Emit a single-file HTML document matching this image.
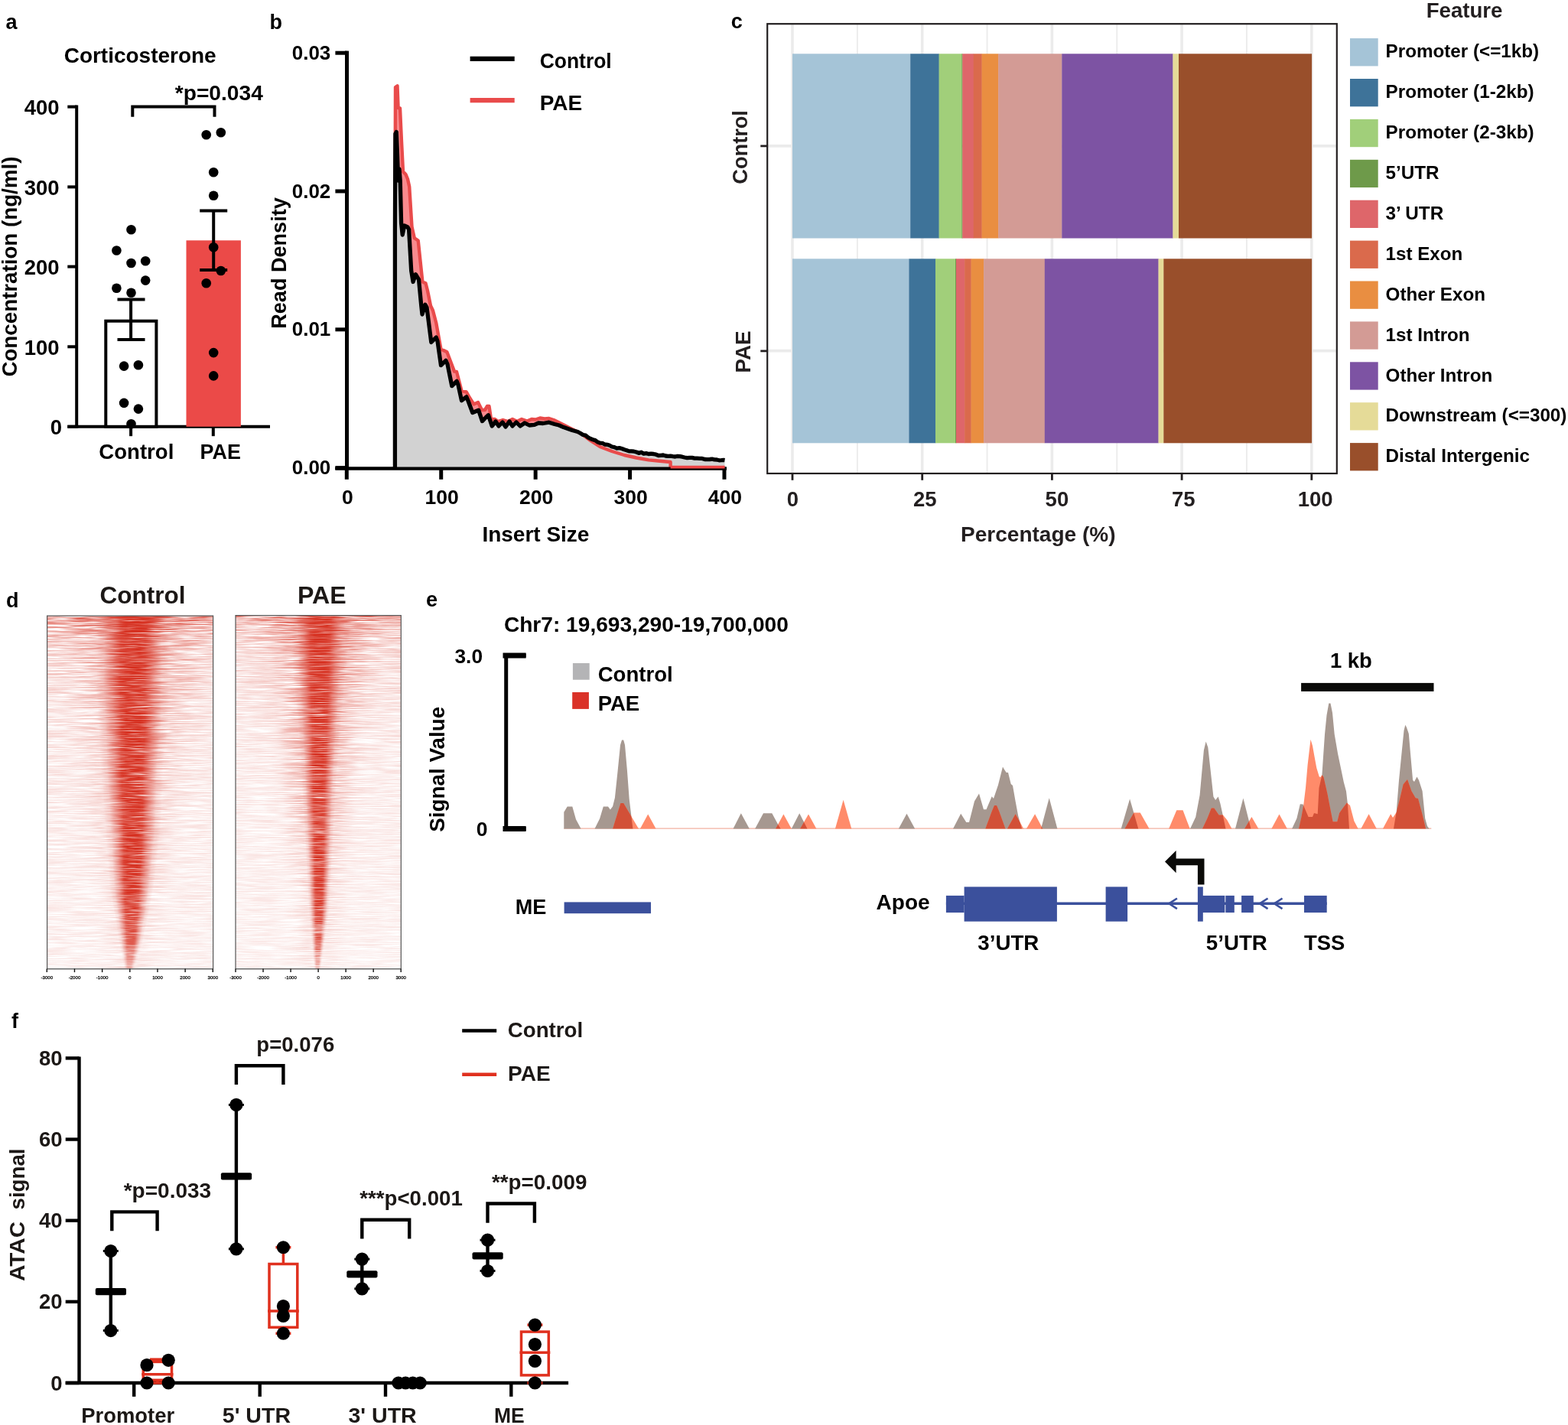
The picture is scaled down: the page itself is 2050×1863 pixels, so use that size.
<!DOCTYPE html>
<html><head><meta charset="utf-8"><title>Figure</title>
<style>
html,body{margin:0;padding:0;background:#fff;overflow:hidden;width:2050px;height:1863px;}
svg{display:block;}
svg text{font-family:'Liberation Sans', Arial, Helvetica, sans-serif;font-weight:bold;}
</style></head><body>
<svg width="2050" height="1863" viewBox="0 0 2050 1863">
<rect x="0" y="0" width="2050" height="1863" fill="#fff"/>
<text x="7.5" y="37.5" font-size="27" text-anchor="start" fill="#000">a</text>
<text x="183.2" y="81.6" font-size="28.5" text-anchor="middle" fill="#000" textLength="199" lengthAdjust="spacingAndGlyphs">Corticosterone</text>
<line x1="100.2" y1="137.6" x2="100.2" y2="559.8" stroke="#000" stroke-width="4"/>
<line x1="88.3" y1="139.6" x2="100.2" y2="139.6" stroke="#000" stroke-width="4"/>
<text x="77.6" y="150.2" font-size="27.5" text-anchor="end" fill="#000">400</text>
<line x1="88.3" y1="244.4" x2="100.2" y2="244.4" stroke="#000" stroke-width="4"/>
<text x="77.6" y="255.0" font-size="27.5" text-anchor="end" fill="#000">300</text>
<line x1="88.3" y1="348.6" x2="100.2" y2="348.6" stroke="#000" stroke-width="4"/>
<text x="77.6" y="359.20000000000005" font-size="27.5" text-anchor="end" fill="#000">200</text>
<line x1="88.3" y1="453.3" x2="100.2" y2="453.3" stroke="#000" stroke-width="4"/>
<text x="77.6" y="463.90000000000003" font-size="27.5" text-anchor="end" fill="#000">100</text>
<line x1="88.3" y1="557.8" x2="100.2" y2="557.8" stroke="#000" stroke-width="4"/>
<text x="81.0" y="568.4" font-size="27.5" text-anchor="end" fill="#000">0</text>
<line x1="88.3" y1="557.8" x2="353" y2="557.8" stroke="#000" stroke-width="4"/>
<line x1="171.1" y1="557.8" x2="171.1" y2="570.2" stroke="#000" stroke-width="4"/>
<line x1="278.8" y1="557.8" x2="278.8" y2="570.2" stroke="#000" stroke-width="4"/>
<rect x="138.3" y="419.7" width="66.1" height="138.1" fill="#fff" stroke="#000" stroke-width="4"/>
<rect x="243.50" y="314.30" width="71.40" height="243.50" fill="#EB4A48"/>
<line x1="171.1" y1="391.4" x2="171.1" y2="444.0" stroke="#000" stroke-width="4"/>
<line x1="153.5" y1="391.4" x2="189.5" y2="391.4" stroke="#000" stroke-width="4"/>
<line x1="153.5" y1="444.0" x2="189.5" y2="444.0" stroke="#000" stroke-width="4"/>
<line x1="279.2" y1="275.6" x2="279.2" y2="353.0" stroke="#000" stroke-width="4"/>
<line x1="261.2" y1="275.6" x2="297.2" y2="275.6" stroke="#000" stroke-width="4"/>
<line x1="261.2" y1="353.0" x2="297.2" y2="353.0" stroke="#000" stroke-width="4"/>
<circle cx="171.50" cy="300.30" r="6.3" fill="#000"/>
<circle cx="152.40" cy="327.50" r="6.3" fill="#000"/>
<circle cx="171.50" cy="344.00" r="6.3" fill="#000"/>
<circle cx="190.20" cy="341.30" r="6.3" fill="#000"/>
<circle cx="190.20" cy="366.60" r="6.3" fill="#000"/>
<circle cx="152.40" cy="376.80" r="6.3" fill="#000"/>
<circle cx="171.50" cy="382.80" r="6.3" fill="#000"/>
<circle cx="162.10" cy="478.60" r="6.3" fill="#000"/>
<circle cx="180.90" cy="477.30" r="6.3" fill="#000"/>
<circle cx="162.10" cy="526.90" r="6.3" fill="#000"/>
<circle cx="180.90" cy="534.60" r="6.3" fill="#000"/>
<circle cx="171.50" cy="554.30" r="6.3" fill="#000"/>
<circle cx="269.70" cy="176.20" r="6.3" fill="#000"/>
<circle cx="288.80" cy="173.30" r="6.3" fill="#000"/>
<circle cx="279.20" cy="225.20" r="6.3" fill="#000"/>
<circle cx="279.20" cy="255.80" r="6.3" fill="#000"/>
<circle cx="279.20" cy="323.30" r="6.3" fill="#000"/>
<circle cx="288.80" cy="354.00" r="6.3" fill="#000"/>
<circle cx="269.70" cy="370.20" r="6.3" fill="#000"/>
<circle cx="279.20" cy="461.10" r="6.3" fill="#000"/>
<circle cx="279.20" cy="491.40" r="6.3" fill="#000"/>
<path d="M173.3,152.7 V139.6 H280.5 V152.7" fill="none" stroke="#000" stroke-width="4"/>
<text x="228.8" y="131.1" font-size="27.5" text-anchor="start" fill="#000" textLength="115" lengthAdjust="spacingAndGlyphs">*p=0.034</text>
<text x="178.3" y="599.5" font-size="27.5" text-anchor="middle" fill="#000" textLength="98" lengthAdjust="spacingAndGlyphs">Control</text>
<text x="288.2" y="599.5" font-size="27.5" text-anchor="middle" fill="#000" textLength="53.3" lengthAdjust="spacingAndGlyphs">PAE</text>
<text transform="translate(22.3,348.6) rotate(-90)" x="0" y="0" font-size="28" text-anchor="middle" fill="#000" textLength="288" lengthAdjust="spacingAndGlyphs">Concentration (ng/ml)</text>
<text x="352.5" y="37.5" font-size="27" text-anchor="start" fill="#000">b</text>
<line x1="453.5" y1="66.7" x2="453.5" y2="614" stroke="#000" stroke-width="5"/>
<line x1="438.4" y1="69.20000000000005" x2="453.5" y2="69.20000000000005" stroke="#000" stroke-width="5"/>
<text x="432.3" y="77.80000000000004" font-size="26" text-anchor="end" fill="#000" textLength="50.5" lengthAdjust="spacingAndGlyphs">0.03</text>
<line x1="438.4" y1="250.0" x2="453.5" y2="250.0" stroke="#000" stroke-width="5"/>
<text x="432.3" y="258.6" font-size="26" text-anchor="end" fill="#000" textLength="50.5" lengthAdjust="spacingAndGlyphs">0.02</text>
<line x1="438.4" y1="430.8" x2="453.5" y2="430.8" stroke="#000" stroke-width="5"/>
<text x="432.3" y="439.40000000000003" font-size="26" text-anchor="end" fill="#000" textLength="50.5" lengthAdjust="spacingAndGlyphs">0.01</text>
<line x1="438.4" y1="611.6" x2="453.5" y2="611.6" stroke="#000" stroke-width="5"/>
<text x="432.3" y="620.2" font-size="26" text-anchor="end" fill="#000" textLength="50.5" lengthAdjust="spacingAndGlyphs">0.00</text>
<line x1="438.4" y1="612.5" x2="949.8" y2="612.5" stroke="#000" stroke-width="4.2"/>
<line x1="453.3" y1="611.6" x2="453.3" y2="626.8" stroke="#000" stroke-width="5"/>
<text x="454.3" y="659.2" font-size="26.5" text-anchor="middle" fill="#000">0</text>
<line x1="576.72" y1="611.6" x2="576.72" y2="626.8" stroke="#000" stroke-width="5"/>
<text x="577.72" y="659.2" font-size="26.5" text-anchor="middle" fill="#000">100</text>
<line x1="700.14" y1="611.6" x2="700.14" y2="626.8" stroke="#000" stroke-width="5"/>
<text x="701.14" y="659.2" font-size="26.5" text-anchor="middle" fill="#000">200</text>
<line x1="823.56" y1="611.6" x2="823.56" y2="626.8" stroke="#000" stroke-width="5"/>
<text x="824.56" y="659.2" font-size="26.5" text-anchor="middle" fill="#000">300</text>
<line x1="946.98" y1="611.6" x2="946.98" y2="626.8" stroke="#000" stroke-width="5"/>
<text x="947.98" y="659.2" font-size="26.5" text-anchor="middle" fill="#000">400</text>
<text x="700.4" y="707.8" font-size="28" text-anchor="middle" fill="#000" textLength="140" lengthAdjust="spacingAndGlyphs">Insert Size</text>
<text transform="translate(374.3,344.0) rotate(-90)" x="0" y="0" font-size="28" text-anchor="middle" fill="#000" textLength="171.5" lengthAdjust="spacingAndGlyphs">Read Density</text>
<line x1="614.6" y1="76.8" x2="672.7" y2="76.8" stroke="#000" stroke-width="6.3"/>
<line x1="614.6" y1="131.1" x2="672.7" y2="131.1" stroke="#E94B4B" stroke-width="6.3"/>
<text x="705.7" y="88.9" font-size="28.5" text-anchor="start" fill="#000" textLength="94" lengthAdjust="spacingAndGlyphs">Control</text>
<text x="705.7" y="143.5" font-size="28.5" text-anchor="start" fill="#000" textLength="55.5" lengthAdjust="spacingAndGlyphs">PAE</text>
<polygon points="516.4,611.6 516.4,300.0 517.0,114.0 519.5,112.3 520.6,141.0 523.0,141.5 525.0,185.0 527.0,224.4 530.3,227.7 533.0,234.0 535.2,244.0 538.5,296.5 541.8,311.2 546.7,314.5 552.4,368.5 556.5,370.2 559.0,380.0 563.0,399.7 566.0,406.0 570.2,422.0 576.5,457.0 580.0,458.0 584.4,460.2 594.0,485.6 597.0,486.0 603.5,511.0 609.8,512.5 614.0,520.0 619.4,528.4 625.0,526.0 630.0,536.0 634.0,536.0 637.0,531.0 639.5,531.0 642.0,548.0 647.0,548.0 651.0,551.0 657.5,549.0 664.0,551.0 670.0,548.0 676.0,551.0 682.0,548.0 689.2,550.6 695.0,548.0 700.0,548.5 706.0,546.5 712.0,547.5 717.8,547.0 724.0,549.0 730.0,552.0 738.0,556.0 746.3,560.2 760.0,567.0 772.0,576.0 784.4,584.0 800.0,590.0 816.2,595.0 832.0,598.5 848.0,601.4 860.0,602.5 873.3,603.7 875.0,611.6 947.5,611.6 516.4,611.6" fill="#F98A8E"/>
<polygon points="516.4,611.6 516.4,300.0 516.9,175.0 518.3,172.5 519.6,205.0 520.6,236.0 522.0,221.0 523.2,236.0 524.6,292.0 526.2,307.0 528.7,295.0 533.0,297.0 534.6,300.0 537.7,354.0 540.1,368.5 543.4,358.7 547.5,365.3 550.8,400.0 552.0,411.0 555.9,398.3 558.0,402.0 563.8,447.5 570.2,441.1 572.0,446.0 576.5,477.6 582.9,471.3 585.0,476.0 590.8,504.6 597.1,498.3 599.0,503.0 603.5,523.7 609.8,518.9 612.0,524.0 617.8,539.5 625.7,536.3 630.5,550.6 635.0,546.0 638.4,542.7 643.2,557.0 648.0,551.0 652.0,557.0 657.0,552.0 661.0,558.0 666.0,551.0 670.0,557.0 675.0,552.0 680.0,557.0 686.0,553.0 692.0,556.0 698.7,555.4 704.0,553.0 710.0,553.5 717.8,552.2 725.0,554.5 731.0,556.0 736.8,558.6 748.0,562.5 751.7,563.5 755.3,564.5 759.0,566.5 762.2,568.5 765.5,569.2 768.8,571.8 772.0,573.5 775.1,574.7 778.2,575.6 781.3,577.8 784.4,579.2 787.5,579.3 790.6,581.0 793.8,581.3 796.9,582.3 800.0,584.0 803.2,584.6 806.5,586.1 809.7,585.6 813.0,586.5 816.2,587.8 819.4,588.7 822.5,589.9 825.7,589.9 828.8,590.2 832.0,591.0 835.2,592.4 838.4,591.2 841.6,593.1 844.8,592.6 848.0,593.5 851.2,593.2 854.4,593.5 857.6,594.2 860.8,595.5 864.0,595.3 867.1,595.0 870.3,596.0 873.4,596.4 876.6,596.2 879.7,596.7 882.8,597.0 885.8,596.4 888.9,596.7 891.9,597.2 895.0,598.0 898.3,598.6 901.6,598.3 904.8,598.4 908.1,599.1 911.4,599.2 914.7,599.4 918.0,599.4 921.4,600.5 924.7,600.6 928.0,600.5 931.0,600.2 934.1,600.9 937.1,601.0 940.2,601.8 943.2,601.7 946.3,601.4 947.5,601.6 947.5,611.6" fill="#D2D2D2"/>
<polyline points="516.4,300.0 517.0,114.0 519.5,112.3 520.6,141.0 523.0,141.5 525.0,185.0 527.0,224.4 530.3,227.7 533.0,234.0 535.2,244.0 538.5,296.5 541.8,311.2 546.7,314.5 552.4,368.5 556.5,370.2 559.0,380.0 563.0,399.7 566.0,406.0 570.2,422.0 576.5,457.0 580.0,458.0 584.4,460.2 594.0,485.6 597.0,486.0 603.5,511.0 609.8,512.5 614.0,520.0 619.4,528.4 625.0,526.0 630.0,536.0 634.0,536.0 637.0,531.0 639.5,531.0 642.0,548.0 647.0,548.0 651.0,551.0 657.5,549.0 664.0,551.0 670.0,548.0 676.0,551.0 682.0,548.0 689.2,550.6 695.0,548.0 700.0,548.5 706.0,546.5 712.0,547.5 717.8,547.0 724.0,549.0 730.0,552.0 738.0,556.0 746.3,560.2 760.0,567.0 772.0,576.0 784.4,584.0 800.0,590.0 816.2,595.0 832.0,598.5 848.0,601.4 860.0,602.5 873.3,603.7 876.6,604.0 876.6,611.0 947.5,611.0" fill="none" stroke="#E94B4B" stroke-width="4.4" stroke-linejoin="round" stroke-linejoin="miter" stroke-miterlimit="2"/>
<polyline points="516.4,611.6 516.4,300.0 516.9,175.0 518.3,172.5 519.6,205.0 520.6,236.0 522.0,221.0 523.2,236.0 524.6,292.0 526.2,307.0 528.7,295.0 533.0,297.0 534.6,300.0 537.7,354.0 540.1,368.5 543.4,358.7 547.5,365.3 550.8,400.0 552.0,411.0 555.9,398.3 558.0,402.0 563.8,447.5 570.2,441.1 572.0,446.0 576.5,477.6 582.9,471.3 585.0,476.0 590.8,504.6 597.1,498.3 599.0,503.0 603.5,523.7 609.8,518.9 612.0,524.0 617.8,539.5 625.7,536.3 630.5,550.6 635.0,546.0 638.4,542.7 643.2,557.0 648.0,551.0 652.0,557.0 657.0,552.0 661.0,558.0 666.0,551.0 670.0,557.0 675.0,552.0 680.0,557.0 686.0,553.0 692.0,556.0 698.7,555.4 704.0,553.0 710.0,553.5 717.8,552.2 725.0,554.5 731.0,556.0 736.8,558.6 748.0,562.5 751.7,563.5 755.3,564.5 759.0,566.5 762.2,568.5 765.5,569.2 768.8,571.8 772.0,573.5 775.1,574.7 778.2,575.6 781.3,577.8 784.4,579.2 787.5,579.3 790.6,581.0 793.8,581.3 796.9,582.3 800.0,584.0 803.2,584.6 806.5,586.1 809.7,585.6 813.0,586.5 816.2,587.8 819.4,588.7 822.5,589.9 825.7,589.9 828.8,590.2 832.0,591.0 835.2,592.4 838.4,591.2 841.6,593.1 844.8,592.6 848.0,593.5 851.2,593.2 854.4,593.5 857.6,594.2 860.8,595.5 864.0,595.3 867.1,595.0 870.3,596.0 873.4,596.4 876.6,596.2 879.7,596.7 882.8,597.0 885.8,596.4 888.9,596.7 891.9,597.2 895.0,598.0 898.3,598.6 901.6,598.3 904.8,598.4 908.1,599.1 911.4,599.2 914.7,599.4 918.0,599.4 921.4,600.5 924.7,600.6 928.0,600.5 931.0,600.2 934.1,600.9 937.1,601.0 940.2,601.8 943.2,601.7 946.3,601.4 947.5,601.6" fill="none" stroke="#000" stroke-width="5.3" stroke-linejoin="round" stroke-linejoin="miter" stroke-miterlimit="2"/>
<line x1="453.5" y1="66.7" x2="453.5" y2="614" stroke="#000" stroke-width="5"/>
<line x1="438.4" y1="612.5" x2="949.8" y2="612.5" stroke="#000" stroke-width="4.2"/>
<line x1="876.6" y1="611.0" x2="947.5" y2="611.0" stroke="#F04545" stroke-width="3.2"/>
<text x="955.8" y="37.4" font-size="27" text-anchor="start" fill="#000">c</text>
<line x1="1036.0" y1="32" x2="1036.0" y2="618" stroke="#EBEBEB" stroke-width="3.6"/>
<line x1="1120.85" y1="32" x2="1120.85" y2="618" stroke="#EBEBEB" stroke-width="1.8"/>
<line x1="1205.7" y1="32" x2="1205.7" y2="618" stroke="#EBEBEB" stroke-width="3.6"/>
<line x1="1290.55" y1="32" x2="1290.55" y2="618" stroke="#EBEBEB" stroke-width="1.8"/>
<line x1="1375.4" y1="32" x2="1375.4" y2="618" stroke="#EBEBEB" stroke-width="3.6"/>
<line x1="1460.25" y1="32" x2="1460.25" y2="618" stroke="#EBEBEB" stroke-width="1.8"/>
<line x1="1545.1" y1="32" x2="1545.1" y2="618" stroke="#EBEBEB" stroke-width="3.6"/>
<line x1="1629.9499999999998" y1="32" x2="1629.9499999999998" y2="618" stroke="#EBEBEB" stroke-width="1.8"/>
<line x1="1714.8" y1="32" x2="1714.8" y2="618" stroke="#EBEBEB" stroke-width="3.6"/>
<line x1="1004" y1="190.9" x2="1746.8" y2="190.9" stroke="#EBEBEB" stroke-width="3.6"/>
<line x1="1004" y1="458.6" x2="1746.8" y2="458.6" stroke="#EBEBEB" stroke-width="3.6"/>
<rect x="1036.00" y="70.30" width="154.50" height="241.20" fill="#A5C4D7"/>
<rect x="1190.20" y="70.30" width="37.70" height="241.20" fill="#3E7399"/>
<rect x="1227.60" y="70.30" width="30.00" height="241.20" fill="#A1CF7A"/>
<rect x="1257.30" y="70.30" width="1.30" height="241.20" fill="#6E9A4A"/>
<rect x="1258.30" y="70.30" width="14.70" height="241.20" fill="#DE666A"/>
<rect x="1272.70" y="70.30" width="11.20" height="241.20" fill="#DA6A4C"/>
<rect x="1283.60" y="70.30" width="21.80" height="241.20" fill="#E98E41"/>
<rect x="1305.10" y="70.30" width="83.50" height="241.20" fill="#D39B95"/>
<rect x="1388.30" y="70.30" width="145.40" height="241.20" fill="#7D53A3"/>
<rect x="1533.40" y="70.30" width="7.90" height="241.20" fill="#E5DB98"/>
<rect x="1541.00" y="70.30" width="174.10" height="241.20" fill="#994F2B"/>
<rect x="1036.00" y="338.30" width="152.70" height="241.00" fill="#A5C4D7"/>
<rect x="1188.40" y="338.30" width="34.90" height="241.00" fill="#3E7399"/>
<rect x="1223.00" y="338.30" width="26.30" height="241.00" fill="#A1CF7A"/>
<rect x="1249.00" y="338.30" width="1.30" height="241.00" fill="#6E9A4A"/>
<rect x="1250.00" y="338.30" width="11.40" height="241.00" fill="#DE666A"/>
<rect x="1261.10" y="338.30" width="8.80" height="241.00" fill="#DA6A4C"/>
<rect x="1269.60" y="338.30" width="16.80" height="241.00" fill="#E98E41"/>
<rect x="1286.10" y="338.30" width="80.00" height="241.00" fill="#D39B95"/>
<rect x="1365.80" y="338.30" width="149.00" height="241.00" fill="#7D53A3"/>
<rect x="1514.50" y="338.30" width="7.10" height="241.00" fill="#E5DB98"/>
<rect x="1521.30" y="338.30" width="193.80" height="241.00" fill="#994F2B"/>
<rect x="1003.2" y="31.2" width="744.6" height="587.8" fill="none" stroke="#231F20" stroke-width="2.2"/>
<line x1="994.3" y1="190.9" x2="1003.2" y2="190.9" stroke="#231F20" stroke-width="2.8"/>
<line x1="994.3" y1="458.9" x2="1003.2" y2="458.9" stroke="#231F20" stroke-width="2.8"/>
<line x1="1036.0" y1="619" x2="1036.0" y2="627.8" stroke="#231F20" stroke-width="2.8"/>
<text x="1036.3" y="662.4" font-size="27.5" text-anchor="middle" fill="#231F20">0</text>
<line x1="1205.7" y1="619" x2="1205.7" y2="627.8" stroke="#231F20" stroke-width="2.8"/>
<text x="1209.3" y="662.4" font-size="27.5" text-anchor="middle" fill="#231F20">25</text>
<line x1="1375.4" y1="619" x2="1375.4" y2="627.8" stroke="#231F20" stroke-width="2.8"/>
<text x="1381.9" y="662.4" font-size="27.5" text-anchor="middle" fill="#231F20">50</text>
<line x1="1545.1" y1="619" x2="1545.1" y2="627.8" stroke="#231F20" stroke-width="2.8"/>
<text x="1547.3" y="662.4" font-size="27.5" text-anchor="middle" fill="#231F20">75</text>
<line x1="1714.8" y1="619" x2="1714.8" y2="627.8" stroke="#231F20" stroke-width="2.8"/>
<text x="1719.7" y="662.4" font-size="27.5" text-anchor="middle" fill="#231F20">100</text>
<text x="1357.3" y="707.5" font-size="28" text-anchor="middle" fill="#231F20" textLength="202.5" lengthAdjust="spacingAndGlyphs">Percentage (%)</text>
<text transform="translate(977.0,192.4) rotate(-90)" x="0" y="0" font-size="28" text-anchor="middle" fill="#231F20" textLength="96.6" lengthAdjust="spacingAndGlyphs">Control</text>
<text transform="translate(981.4,460.0) rotate(-90)" x="0" y="0" font-size="28" text-anchor="middle" fill="#231F20" textLength="55.1" lengthAdjust="spacingAndGlyphs">PAE</text>
<text x="1914.6" y="23.2" font-size="28.5" text-anchor="middle" fill="#231F20" textLength="99.7" lengthAdjust="spacingAndGlyphs">Feature</text>
<rect x="1765.00" y="50.10" width="36.70" height="36.30" fill="#A5C4D7"/>
<text x="1811.6" y="75.3" font-size="24.6" text-anchor="start" fill="#000" textLength="200.5" lengthAdjust="spacingAndGlyphs">Promoter (&lt;=1kb)</text>
<rect x="1765.00" y="103.00" width="36.70" height="36.30" fill="#3E7399"/>
<text x="1811.6" y="128.2" font-size="24.6" text-anchor="start" fill="#000" textLength="194.0" lengthAdjust="spacingAndGlyphs">Promoter (1-2kb)</text>
<rect x="1765.00" y="155.90" width="36.70" height="36.30" fill="#A1CF7A"/>
<text x="1811.6" y="181.1" font-size="24.6" text-anchor="start" fill="#000" textLength="194.0" lengthAdjust="spacingAndGlyphs">Promoter (2-3kb)</text>
<rect x="1765.00" y="208.80" width="36.70" height="36.30" fill="#6E9A4A"/>
<text x="1811.6" y="233.99999999999997" font-size="24.6" text-anchor="start" fill="#000" textLength="70.0" lengthAdjust="spacingAndGlyphs">5’UTR</text>
<rect x="1765.00" y="261.70" width="36.70" height="36.30" fill="#DE666A"/>
<text x="1811.6" y="286.9" font-size="24.6" text-anchor="start" fill="#000" textLength="75.6" lengthAdjust="spacingAndGlyphs">3’ UTR</text>
<rect x="1765.00" y="314.60" width="36.70" height="36.30" fill="#DA6A4C"/>
<text x="1811.6" y="339.8" font-size="24.6" text-anchor="start" fill="#000" textLength="100.6" lengthAdjust="spacingAndGlyphs">1st Exon</text>
<rect x="1765.00" y="367.50" width="36.70" height="36.30" fill="#E98E41"/>
<text x="1811.6" y="392.7" font-size="24.6" text-anchor="start" fill="#000" textLength="130.4" lengthAdjust="spacingAndGlyphs">Other Exon</text>
<rect x="1765.00" y="420.40" width="36.70" height="36.30" fill="#D39B95"/>
<text x="1811.6" y="445.6" font-size="24.6" text-anchor="start" fill="#000" textLength="110.0" lengthAdjust="spacingAndGlyphs">1st Intron</text>
<rect x="1765.00" y="473.30" width="36.70" height="36.30" fill="#7D53A3"/>
<text x="1811.6" y="498.5" font-size="24.6" text-anchor="start" fill="#000" textLength="139.7" lengthAdjust="spacingAndGlyphs">Other Intron</text>
<rect x="1765.00" y="526.20" width="36.70" height="36.30" fill="#E5DB98"/>
<text x="1811.6" y="551.4" font-size="24.6" text-anchor="start" fill="#000" textLength="236.8" lengthAdjust="spacingAndGlyphs">Downstream (&lt;=300)</text>
<rect x="1765.00" y="579.10" width="36.70" height="36.30" fill="#994F2B"/>
<text x="1811.6" y="604.3000000000001" font-size="24.6" text-anchor="start" fill="#000" textLength="188.3" lengthAdjust="spacingAndGlyphs">Distal Intergenic</text>
<text x="8" y="793.6" font-size="27" text-anchor="start" fill="#000">d</text>
<text x="186.6" y="789" font-size="31.5" text-anchor="middle" fill="#1c1816" textLength="112" lengthAdjust="spacingAndGlyphs">Control</text>
<text x="420.9" y="789" font-size="31.5" text-anchor="middle" fill="#1c1816" textLength="63.7" lengthAdjust="spacingAndGlyphs">PAE</text>
<defs><linearGradient id="prof" x1="0" y1="0" x2="1" y2="0">
<stop offset="0" stop-color="#D62F1F" stop-opacity="0"/>
<stop offset="0.1" stop-color="#D62F1F" stop-opacity="0.12"/>
<stop offset="0.22" stop-color="#D62F1F" stop-opacity="0.5"/>
<stop offset="0.33" stop-color="#D62F1F" stop-opacity="0.92"/>
<stop offset="0.4" stop-color="#D62F1F" stop-opacity="1"/>
<stop offset="0.6" stop-color="#D62F1F" stop-opacity="1"/>
<stop offset="0.67" stop-color="#D62F1F" stop-opacity="0.92"/>
<stop offset="0.78" stop-color="#D62F1F" stop-opacity="0.5"/>
<stop offset="0.9" stop-color="#D62F1F" stop-opacity="0.12"/>
<stop offset="1" stop-color="#D62F1F" stop-opacity="0"/>
</linearGradient></defs>
<defs>
<clipPath id="clip1"><rect x="61.6" y="805.1" width="217.00000000000003" height="461.4"/></clipPath>
<linearGradient id="bgg1" x1="0" y1="0" x2="0" y2="1"><stop offset="0" stop-color="#D62F1F" stop-opacity="0.75"/><stop offset="0.03" stop-color="#D62F1F" stop-opacity="0.5"/><stop offset="0.1" stop-color="#D62F1F" stop-opacity="0.3"/><stop offset="0.3" stop-color="#D62F1F" stop-opacity="0.19"/><stop offset="0.6" stop-color="#D62F1F" stop-opacity="0.14"/><stop offset="1" stop-color="#D62F1F" stop-opacity="0.11"/></linearGradient>
<filter id="hm1b" filterUnits="userSpaceOnUse" x="61.6" y="805.1" width="217.00000000000003" height="461.4" color-interpolation-filters="sRGB">
 <feTurbulence type="fractalNoise" baseFrequency="0.022 0.9" numOctaves="3" seed="3" result="t"/>
 <feColorMatrix in="t" type="matrix" values="0 0 0 0 0  0 0 0 0 0  0 0 0 0 0  2.6 0 0 0 -0.75" result="na"/>
 <feComposite in="SourceGraphic" in2="na" operator="in"/>
</filter>
<filter id="hm1c" filterUnits="userSpaceOnUse" x="61.6" y="805.1" width="217.00000000000003" height="461.4" color-interpolation-filters="sRGB">
 <feTurbulence type="fractalNoise" baseFrequency="0.03 0.9" numOctaves="2" seed="10" result="t"/>
 <feColorMatrix in="t" type="matrix" values="0 0 0 0 0  0 0 0 0 0  0 0 0 0 0  2.4 0 0 0 -0.3" result="na"/>
 <feComposite in="SourceGraphic" in2="na" operator="in"/>
</filter>
</defs>
<g clip-path="url(#clip1)">
<g filter="url(#hm1b)"><rect x="61.6" y="805.1" width="217.00000000000003" height="461.4" fill="url(#bgg1)"/>
<rect x="49.1" y="805.1" width="257.7" height="3.05" fill="url(#prof)" fill-opacity="0.54"/>
<rect x="51.2" y="808.1" width="253.4" height="3.05" fill="url(#prof)" fill-opacity="0.53"/>
<rect x="53.2" y="811.1" width="249.1" height="3.05" fill="url(#prof)" fill-opacity="0.52"/>
<rect x="55.3" y="814.1" width="244.9" height="3.05" fill="url(#prof)" fill-opacity="0.51"/>
<rect x="57.3" y="817.1" width="240.6" height="3.05" fill="url(#prof)" fill-opacity="0.50"/>
<rect x="59.4" y="820.1" width="236.3" height="3.05" fill="url(#prof)" fill-opacity="0.49"/>
<rect x="61.4" y="823.1" width="232.0" height="3.05" fill="url(#prof)" fill-opacity="0.48"/>
<rect x="63.5" y="826.1" width="227.7" height="3.05" fill="url(#prof)" fill-opacity="0.47"/>
<rect x="65.6" y="829.1" width="223.4" height="3.05" fill="url(#prof)" fill-opacity="0.45"/>
<rect x="67.6" y="832.1" width="219.1" height="3.05" fill="url(#prof)" fill-opacity="0.44"/>
<rect x="69.7" y="835.1" width="214.9" height="3.05" fill="url(#prof)" fill-opacity="0.43"/>
<rect x="71.7" y="838.1" width="210.6" height="3.05" fill="url(#prof)" fill-opacity="0.42"/>
<rect x="72.3" y="841.1" width="209.3" height="3.05" fill="url(#prof)" fill-opacity="0.42"/>
<rect x="72.7" y="844.1" width="208.5" height="3.05" fill="url(#prof)" fill-opacity="0.41"/>
<rect x="73.1" y="847.1" width="207.7" height="3.05" fill="url(#prof)" fill-opacity="0.41"/>
<rect x="73.5" y="850.1" width="206.8" height="3.05" fill="url(#prof)" fill-opacity="0.41"/>
<rect x="73.9" y="853.1" width="206.0" height="3.05" fill="url(#prof)" fill-opacity="0.41"/>
<rect x="74.2" y="856.1" width="205.2" height="3.05" fill="url(#prof)" fill-opacity="0.40"/>
<rect x="74.6" y="859.1" width="204.4" height="3.05" fill="url(#prof)" fill-opacity="0.40"/>
<rect x="75.0" y="862.1" width="203.6" height="3.05" fill="url(#prof)" fill-opacity="0.40"/>
<rect x="75.4" y="865.1" width="202.7" height="3.05" fill="url(#prof)" fill-opacity="0.40"/>
<rect x="75.8" y="868.1" width="201.9" height="3.05" fill="url(#prof)" fill-opacity="0.39"/>
<rect x="76.1" y="871.1" width="201.1" height="3.05" fill="url(#prof)" fill-opacity="0.39"/>
<rect x="76.5" y="874.1" width="200.3" height="3.05" fill="url(#prof)" fill-opacity="0.39"/>
<rect x="76.9" y="877.1" width="199.5" height="3.05" fill="url(#prof)" fill-opacity="0.38"/>
<rect x="77.3" y="880.1" width="198.7" height="3.05" fill="url(#prof)" fill-opacity="0.38"/>
<rect x="77.7" y="883.1" width="197.8" height="3.05" fill="url(#prof)" fill-opacity="0.38"/>
<rect x="78.1" y="886.1" width="197.0" height="3.05" fill="url(#prof)" fill-opacity="0.38"/>
<rect x="78.4" y="889.1" width="196.2" height="3.05" fill="url(#prof)" fill-opacity="0.37"/>
<rect x="78.8" y="892.1" width="195.4" height="3.05" fill="url(#prof)" fill-opacity="0.37"/>
<rect x="79.2" y="895.1" width="194.6" height="3.05" fill="url(#prof)" fill-opacity="0.37"/>
<rect x="79.6" y="898.1" width="193.7" height="3.05" fill="url(#prof)" fill-opacity="0.37"/>
<rect x="80.0" y="901.1" width="192.9" height="3.05" fill="url(#prof)" fill-opacity="0.36"/>
<rect x="80.3" y="904.1" width="192.1" height="3.05" fill="url(#prof)" fill-opacity="0.36"/>
<rect x="80.7" y="907.1" width="191.3" height="3.05" fill="url(#prof)" fill-opacity="0.36"/>
<rect x="81.1" y="910.1" width="190.5" height="3.05" fill="url(#prof)" fill-opacity="0.35"/>
<rect x="81.5" y="913.1" width="189.7" height="3.05" fill="url(#prof)" fill-opacity="0.35"/>
<rect x="81.9" y="916.1" width="188.8" height="3.05" fill="url(#prof)" fill-opacity="0.35"/>
<rect x="82.3" y="919.1" width="188.0" height="3.05" fill="url(#prof)" fill-opacity="0.35"/>
<rect x="82.6" y="922.1" width="187.2" height="3.05" fill="url(#prof)" fill-opacity="0.34"/>
<rect x="83.0" y="925.1" width="186.4" height="3.05" fill="url(#prof)" fill-opacity="0.34"/>
<rect x="83.4" y="928.1" width="185.6" height="3.05" fill="url(#prof)" fill-opacity="0.34"/>
<rect x="83.8" y="931.1" width="184.7" height="3.05" fill="url(#prof)" fill-opacity="0.34"/>
<rect x="84.2" y="934.1" width="183.9" height="3.05" fill="url(#prof)" fill-opacity="0.33"/>
<rect x="84.5" y="937.1" width="183.1" height="3.05" fill="url(#prof)" fill-opacity="0.33"/>
<rect x="84.9" y="940.1" width="182.3" height="3.05" fill="url(#prof)" fill-opacity="0.33"/>
<rect x="85.3" y="943.1" width="181.5" height="3.05" fill="url(#prof)" fill-opacity="0.32"/>
<rect x="85.7" y="946.1" width="180.7" height="3.05" fill="url(#prof)" fill-opacity="0.32"/>
<rect x="86.1" y="949.1" width="179.8" height="3.05" fill="url(#prof)" fill-opacity="0.32"/>
<rect x="86.5" y="952.1" width="178.9" height="3.05" fill="url(#prof)" fill-opacity="0.32"/>
<rect x="86.9" y="955.1" width="178.0" height="3.05" fill="url(#prof)" fill-opacity="0.32"/>
<rect x="87.2" y="958.1" width="177.1" height="3.05" fill="url(#prof)" fill-opacity="0.31"/>
<rect x="87.6" y="961.1" width="176.2" height="3.05" fill="url(#prof)" fill-opacity="0.31"/>
<rect x="88.0" y="964.1" width="175.3" height="3.05" fill="url(#prof)" fill-opacity="0.31"/>
<rect x="88.4" y="967.1" width="174.4" height="3.05" fill="url(#prof)" fill-opacity="0.31"/>
<rect x="88.8" y="970.1" width="173.5" height="3.05" fill="url(#prof)" fill-opacity="0.30"/>
<rect x="89.2" y="973.1" width="172.6" height="3.05" fill="url(#prof)" fill-opacity="0.30"/>
<rect x="89.6" y="976.1" width="171.7" height="3.05" fill="url(#prof)" fill-opacity="0.30"/>
<rect x="90.0" y="979.1" width="170.8" height="3.05" fill="url(#prof)" fill-opacity="0.30"/>
<rect x="90.4" y="982.1" width="169.9" height="3.05" fill="url(#prof)" fill-opacity="0.30"/>
<rect x="90.8" y="985.1" width="169.0" height="3.05" fill="url(#prof)" fill-opacity="0.29"/>
<rect x="91.1" y="988.1" width="168.1" height="3.05" fill="url(#prof)" fill-opacity="0.29"/>
<rect x="91.5" y="991.1" width="167.2" height="3.05" fill="url(#prof)" fill-opacity="0.29"/>
<rect x="91.9" y="994.1" width="166.3" height="3.05" fill="url(#prof)" fill-opacity="0.29"/>
<rect x="92.3" y="997.1" width="165.4" height="3.05" fill="url(#prof)" fill-opacity="0.29"/>
<rect x="92.7" y="1000.1" width="164.5" height="3.05" fill="url(#prof)" fill-opacity="0.28"/>
<rect x="93.1" y="1003.1" width="163.6" height="3.05" fill="url(#prof)" fill-opacity="0.28"/>
<rect x="93.5" y="1006.1" width="162.7" height="3.05" fill="url(#prof)" fill-opacity="0.28"/>
<rect x="93.9" y="1009.1" width="161.8" height="3.05" fill="url(#prof)" fill-opacity="0.28"/>
<rect x="94.3" y="1012.1" width="160.9" height="3.05" fill="url(#prof)" fill-opacity="0.28"/>
<rect x="94.7" y="1015.1" width="160.0" height="3.05" fill="url(#prof)" fill-opacity="0.27"/>
<rect x="95.0" y="1018.1" width="159.1" height="3.05" fill="url(#prof)" fill-opacity="0.27"/>
<rect x="95.4" y="1021.1" width="158.2" height="3.05" fill="url(#prof)" fill-opacity="0.27"/>
<rect x="95.8" y="1024.1" width="157.3" height="3.05" fill="url(#prof)" fill-opacity="0.27"/>
<rect x="96.2" y="1027.1" width="156.4" height="3.05" fill="url(#prof)" fill-opacity="0.26"/>
<rect x="96.6" y="1030.1" width="155.5" height="3.05" fill="url(#prof)" fill-opacity="0.26"/>
<rect x="97.0" y="1033.1" width="154.6" height="3.05" fill="url(#prof)" fill-opacity="0.26"/>
<rect x="97.4" y="1036.1" width="153.7" height="3.05" fill="url(#prof)" fill-opacity="0.26"/>
<rect x="97.8" y="1039.1" width="152.8" height="3.05" fill="url(#prof)" fill-opacity="0.26"/>
<rect x="98.2" y="1042.1" width="151.9" height="3.05" fill="url(#prof)" fill-opacity="0.25"/>
<rect x="98.6" y="1045.1" width="151.0" height="3.05" fill="url(#prof)" fill-opacity="0.25"/>
<rect x="98.9" y="1048.1" width="150.1" height="3.05" fill="url(#prof)" fill-opacity="0.25"/>
<rect x="99.4" y="1051.1" width="149.2" height="3.05" fill="url(#prof)" fill-opacity="0.25"/>
<rect x="99.8" y="1054.1" width="148.3" height="3.05" fill="url(#prof)" fill-opacity="0.24"/>
<rect x="100.2" y="1057.1" width="147.4" height="3.05" fill="url(#prof)" fill-opacity="0.24"/>
<rect x="100.6" y="1060.1" width="146.5" height="3.05" fill="url(#prof)" fill-opacity="0.24"/>
<rect x="101.0" y="1063.1" width="145.6" height="3.05" fill="url(#prof)" fill-opacity="0.24"/>
<rect x="101.5" y="1066.1" width="144.7" height="3.05" fill="url(#prof)" fill-opacity="0.23"/>
<rect x="101.9" y="1069.1" width="143.8" height="3.05" fill="url(#prof)" fill-opacity="0.23"/>
<rect x="102.3" y="1072.1" width="142.9" height="3.05" fill="url(#prof)" fill-opacity="0.23"/>
<rect x="102.7" y="1075.1" width="142.0" height="3.05" fill="url(#prof)" fill-opacity="0.23"/>
<rect x="103.1" y="1078.1" width="141.1" height="3.05" fill="url(#prof)" fill-opacity="0.22"/>
<rect x="103.6" y="1081.1" width="140.2" height="3.05" fill="url(#prof)" fill-opacity="0.22"/>
<rect x="104.0" y="1084.1" width="139.3" height="3.05" fill="url(#prof)" fill-opacity="0.22"/>
<rect x="104.4" y="1087.1" width="138.4" height="3.05" fill="url(#prof)" fill-opacity="0.22"/>
<rect x="104.8" y="1090.1" width="137.5" height="3.05" fill="url(#prof)" fill-opacity="0.21"/>
<rect x="105.2" y="1093.1" width="136.6" height="3.05" fill="url(#prof)" fill-opacity="0.21"/>
<rect x="105.7" y="1096.1" width="135.7" height="3.05" fill="url(#prof)" fill-opacity="0.21"/>
<rect x="106.1" y="1099.1" width="134.8" height="3.05" fill="url(#prof)" fill-opacity="0.20"/>
<rect x="106.5" y="1102.1" width="133.9" height="3.05" fill="url(#prof)" fill-opacity="0.20"/>
<rect x="106.9" y="1105.1" width="133.0" height="3.05" fill="url(#prof)" fill-opacity="0.20"/>
<rect x="107.3" y="1108.1" width="132.1" height="3.05" fill="url(#prof)" fill-opacity="0.20"/>
<rect x="107.8" y="1111.1" width="131.2" height="3.05" fill="url(#prof)" fill-opacity="0.19"/>
<rect x="108.2" y="1114.1" width="130.3" height="3.05" fill="url(#prof)" fill-opacity="0.19"/>
<rect x="108.6" y="1117.1" width="129.4" height="3.05" fill="url(#prof)" fill-opacity="0.19"/>
<rect x="109.0" y="1120.1" width="128.5" height="3.05" fill="url(#prof)" fill-opacity="0.19"/>
<rect x="109.4" y="1123.1" width="127.6" height="3.05" fill="url(#prof)" fill-opacity="0.18"/>
<rect x="109.9" y="1126.1" width="126.7" height="3.05" fill="url(#prof)" fill-opacity="0.18"/>
<rect x="110.3" y="1129.1" width="125.8" height="3.05" fill="url(#prof)" fill-opacity="0.18"/>
<rect x="110.7" y="1132.1" width="124.9" height="3.05" fill="url(#prof)" fill-opacity="0.17"/>
<rect x="111.1" y="1135.1" width="124.0" height="3.05" fill="url(#prof)" fill-opacity="0.17"/>
<rect x="111.5" y="1138.1" width="123.1" height="3.05" fill="url(#prof)" fill-opacity="0.17"/>
<rect x="112.0" y="1141.1" width="122.2" height="3.05" fill="url(#prof)" fill-opacity="0.17"/>
<rect x="112.4" y="1144.1" width="121.3" height="3.05" fill="url(#prof)" fill-opacity="0.16"/>
<rect x="112.8" y="1147.1" width="120.4" height="3.05" fill="url(#prof)" fill-opacity="0.16"/>
<rect x="113.2" y="1150.1" width="119.5" height="3.05" fill="url(#prof)" fill-opacity="0.16"/>
<rect x="113.7" y="1153.1" width="118.4" height="3.05" fill="url(#prof)" fill-opacity="0.16"/>
<rect x="114.1" y="1156.1" width="117.4" height="3.05" fill="url(#prof)" fill-opacity="0.15"/>
<rect x="114.5" y="1159.1" width="116.4" height="3.05" fill="url(#prof)" fill-opacity="0.15"/>
<rect x="115.0" y="1162.1" width="115.4" height="3.05" fill="url(#prof)" fill-opacity="0.15"/>
<rect x="115.4" y="1165.1" width="114.3" height="3.05" fill="url(#prof)" fill-opacity="0.15"/>
<rect x="115.8" y="1168.1" width="113.3" height="3.05" fill="url(#prof)" fill-opacity="0.14"/>
<rect x="116.3" y="1171.1" width="112.3" height="3.05" fill="url(#prof)" fill-opacity="0.14"/>
<rect x="116.7" y="1174.1" width="111.2" height="3.05" fill="url(#prof)" fill-opacity="0.14"/>
<rect x="117.2" y="1177.1" width="110.2" height="3.05" fill="url(#prof)" fill-opacity="0.14"/>
<rect x="117.6" y="1180.1" width="109.2" height="3.05" fill="url(#prof)" fill-opacity="0.13"/>
<rect x="118.0" y="1183.1" width="108.2" height="3.05" fill="url(#prof)" fill-opacity="0.13"/>
<rect x="118.5" y="1186.1" width="107.1" height="3.05" fill="url(#prof)" fill-opacity="0.13"/>
<rect x="118.9" y="1189.1" width="106.1" height="3.05" fill="url(#prof)" fill-opacity="0.13"/>
<rect x="119.3" y="1192.1" width="105.1" height="3.05" fill="url(#prof)" fill-opacity="0.12"/>
<rect x="119.8" y="1195.1" width="104.1" height="3.05" fill="url(#prof)" fill-opacity="0.12"/>
<rect x="120.2" y="1198.1" width="103.0" height="3.05" fill="url(#prof)" fill-opacity="0.12"/>
<rect x="120.6" y="1201.1" width="102.0" height="3.05" fill="url(#prof)" fill-opacity="0.12"/>
<rect x="121.1" y="1204.1" width="101.0" height="3.05" fill="url(#prof)" fill-opacity="0.11"/>
<rect x="121.5" y="1207.1" width="100.0" height="3.05" fill="url(#prof)" fill-opacity="0.11"/>
<rect x="122.0" y="1210.1" width="98.9" height="3.05" fill="url(#prof)" fill-opacity="0.11"/>
<rect x="122.4" y="1213.1" width="97.9" height="3.05" fill="url(#prof)" fill-opacity="0.10"/>
<rect x="122.8" y="1216.1" width="96.9" height="3.05" fill="url(#prof)" fill-opacity="0.10"/>
<rect x="123.3" y="1219.1" width="95.9" height="3.05" fill="url(#prof)" fill-opacity="0.10"/>
<rect x="123.7" y="1222.1" width="94.8" height="3.05" fill="url(#prof)" fill-opacity="0.10"/>
<rect x="124.1" y="1225.1" width="93.8" height="3.05" fill="url(#prof)" fill-opacity="0.09"/>
<rect x="124.6" y="1228.1" width="92.8" height="3.05" fill="url(#prof)" fill-opacity="0.09"/>
<rect x="125.0" y="1231.1" width="91.8" height="3.05" fill="url(#prof)" fill-opacity="0.09"/>
<rect x="125.4" y="1234.1" width="90.7" height="3.05" fill="url(#prof)" fill-opacity="0.09"/>
<rect x="125.9" y="1237.1" width="89.7" height="3.05" fill="url(#prof)" fill-opacity="0.08"/>
<rect x="126.3" y="1240.1" width="88.7" height="3.05" fill="url(#prof)" fill-opacity="0.08"/>
<rect x="126.7" y="1243.1" width="87.7" height="3.05" fill="url(#prof)" fill-opacity="0.08"/>
<rect x="127.2" y="1246.1" width="86.6" height="3.05" fill="url(#prof)" fill-opacity="0.08"/>
<rect x="127.6" y="1249.1" width="85.6" height="3.05" fill="url(#prof)" fill-opacity="0.07"/>
<rect x="128.1" y="1252.1" width="84.6" height="3.05" fill="url(#prof)" fill-opacity="0.07"/>
<rect x="128.5" y="1255.1" width="83.6" height="3.05" fill="url(#prof)" fill-opacity="0.07"/>
<rect x="128.9" y="1258.1" width="82.5" height="3.05" fill="url(#prof)" fill-opacity="0.07"/>
<rect x="129.4" y="1261.1" width="81.5" height="3.05" fill="url(#prof)" fill-opacity="0.06"/>
<rect x="129.8" y="1264.1" width="80.5" height="3.05" fill="url(#prof)" fill-opacity="0.06"/>
</g>
<g filter="url(#hm1c)">
<rect x="120.9" y="805.1" width="110.0" height="3.05" fill="url(#prof)" fill-opacity="1.00"/>
<rect x="121.7" y="808.1" width="107.8" height="3.05" fill="url(#prof)" fill-opacity="1.00"/>
<rect x="122.5" y="811.1" width="105.7" height="3.05" fill="url(#prof)" fill-opacity="1.00"/>
<rect x="123.4" y="814.1" width="103.6" height="3.05" fill="url(#prof)" fill-opacity="1.00"/>
<rect x="124.2" y="817.1" width="101.4" height="3.05" fill="url(#prof)" fill-opacity="1.00"/>
<rect x="125.0" y="820.1" width="99.3" height="3.05" fill="url(#prof)" fill-opacity="1.00"/>
<rect x="125.8" y="823.1" width="97.2" height="3.05" fill="url(#prof)" fill-opacity="1.00"/>
<rect x="126.7" y="826.1" width="95.0" height="3.05" fill="url(#prof)" fill-opacity="1.00"/>
<rect x="127.3" y="829.1" width="93.4" height="3.05" fill="url(#prof)" fill-opacity="1.00"/>
<rect x="127.3" y="832.1" width="93.4" height="3.05" fill="url(#prof)" fill-opacity="1.00"/>
<rect x="127.2" y="835.1" width="93.5" height="3.05" fill="url(#prof)" fill-opacity="1.00"/>
<rect x="127.1" y="838.1" width="93.6" height="3.05" fill="url(#prof)" fill-opacity="1.00"/>
<rect x="127.0" y="841.1" width="93.7" height="3.05" fill="url(#prof)" fill-opacity="1.00"/>
<rect x="127.0" y="844.1" width="93.8" height="3.05" fill="url(#prof)" fill-opacity="1.00"/>
<rect x="126.9" y="847.1" width="93.9" height="3.05" fill="url(#prof)" fill-opacity="1.00"/>
<rect x="126.8" y="850.1" width="94.0" height="3.05" fill="url(#prof)" fill-opacity="1.00"/>
<rect x="126.8" y="853.1" width="94.1" height="3.05" fill="url(#prof)" fill-opacity="1.00"/>
<rect x="126.7" y="856.1" width="94.2" height="3.05" fill="url(#prof)" fill-opacity="1.00"/>
<rect x="126.6" y="859.1" width="94.3" height="3.05" fill="url(#prof)" fill-opacity="1.00"/>
<rect x="126.6" y="862.1" width="94.4" height="3.05" fill="url(#prof)" fill-opacity="1.00"/>
<rect x="126.5" y="865.1" width="94.5" height="3.05" fill="url(#prof)" fill-opacity="1.00"/>
<rect x="126.4" y="868.1" width="94.6" height="3.05" fill="url(#prof)" fill-opacity="1.00"/>
<rect x="126.4" y="871.1" width="94.7" height="3.05" fill="url(#prof)" fill-opacity="1.00"/>
<rect x="126.3" y="874.1" width="94.8" height="3.05" fill="url(#prof)" fill-opacity="1.00"/>
<rect x="126.2" y="877.1" width="94.9" height="3.05" fill="url(#prof)" fill-opacity="1.00"/>
<rect x="126.1" y="880.1" width="95.0" height="3.05" fill="url(#prof)" fill-opacity="1.00"/>
<rect x="126.1" y="883.1" width="95.1" height="3.05" fill="url(#prof)" fill-opacity="1.00"/>
<rect x="126.0" y="886.1" width="95.2" height="3.05" fill="url(#prof)" fill-opacity="1.00"/>
<rect x="125.9" y="889.1" width="95.3" height="3.05" fill="url(#prof)" fill-opacity="1.00"/>
<rect x="125.9" y="892.1" width="95.4" height="3.05" fill="url(#prof)" fill-opacity="1.00"/>
<rect x="125.8" y="895.1" width="95.4" height="3.05" fill="url(#prof)" fill-opacity="1.00"/>
<rect x="125.7" y="898.1" width="95.5" height="3.05" fill="url(#prof)" fill-opacity="1.00"/>
<rect x="125.9" y="901.1" width="95.3" height="3.05" fill="url(#prof)" fill-opacity="1.00"/>
<rect x="126.1" y="904.1" width="95.1" height="3.05" fill="url(#prof)" fill-opacity="1.00"/>
<rect x="126.3" y="907.1" width="94.8" height="3.05" fill="url(#prof)" fill-opacity="1.00"/>
<rect x="126.5" y="910.1" width="94.5" height="3.05" fill="url(#prof)" fill-opacity="1.00"/>
<rect x="126.7" y="913.1" width="94.3" height="3.05" fill="url(#prof)" fill-opacity="1.00"/>
<rect x="126.9" y="916.1" width="94.0" height="3.05" fill="url(#prof)" fill-opacity="1.00"/>
<rect x="127.0" y="919.1" width="93.7" height="3.05" fill="url(#prof)" fill-opacity="1.00"/>
<rect x="127.2" y="922.1" width="93.5" height="3.05" fill="url(#prof)" fill-opacity="1.00"/>
<rect x="127.4" y="925.1" width="93.2" height="3.05" fill="url(#prof)" fill-opacity="1.00"/>
<rect x="127.6" y="928.1" width="92.9" height="3.05" fill="url(#prof)" fill-opacity="1.00"/>
<rect x="127.8" y="931.1" width="92.7" height="3.05" fill="url(#prof)" fill-opacity="1.00"/>
<rect x="128.0" y="934.1" width="92.4" height="3.05" fill="url(#prof)" fill-opacity="1.00"/>
<rect x="128.2" y="937.1" width="92.1" height="3.05" fill="url(#prof)" fill-opacity="1.00"/>
<rect x="128.4" y="940.1" width="91.9" height="3.05" fill="url(#prof)" fill-opacity="1.00"/>
<rect x="128.6" y="943.1" width="91.6" height="3.05" fill="url(#prof)" fill-opacity="1.00"/>
<rect x="128.8" y="946.1" width="91.3" height="3.05" fill="url(#prof)" fill-opacity="1.00"/>
<rect x="129.0" y="949.1" width="91.0" height="3.05" fill="url(#prof)" fill-opacity="1.00"/>
<rect x="129.1" y="952.1" width="90.5" height="3.05" fill="url(#prof)" fill-opacity="1.00"/>
<rect x="129.3" y="955.1" width="89.9" height="3.05" fill="url(#prof)" fill-opacity="1.00"/>
<rect x="129.4" y="958.1" width="89.4" height="3.05" fill="url(#prof)" fill-opacity="1.00"/>
<rect x="129.6" y="961.1" width="88.9" height="3.05" fill="url(#prof)" fill-opacity="1.00"/>
<rect x="129.7" y="964.1" width="88.3" height="3.05" fill="url(#prof)" fill-opacity="1.00"/>
<rect x="129.9" y="967.1" width="87.8" height="3.05" fill="url(#prof)" fill-opacity="1.00"/>
<rect x="130.0" y="970.1" width="87.3" height="3.05" fill="url(#prof)" fill-opacity="1.00"/>
<rect x="130.1" y="973.1" width="86.7" height="3.05" fill="url(#prof)" fill-opacity="1.00"/>
<rect x="130.3" y="976.1" width="86.2" height="3.05" fill="url(#prof)" fill-opacity="1.00"/>
<rect x="130.4" y="979.1" width="85.7" height="3.05" fill="url(#prof)" fill-opacity="1.00"/>
<rect x="130.6" y="982.1" width="85.1" height="3.05" fill="url(#prof)" fill-opacity="1.00"/>
<rect x="130.7" y="985.1" width="84.6" height="3.05" fill="url(#prof)" fill-opacity="1.00"/>
<rect x="130.9" y="988.1" width="84.1" height="3.05" fill="url(#prof)" fill-opacity="1.00"/>
<rect x="131.0" y="991.1" width="83.5" height="3.05" fill="url(#prof)" fill-opacity="1.00"/>
<rect x="131.2" y="994.1" width="83.0" height="3.05" fill="url(#prof)" fill-opacity="1.00"/>
<rect x="131.3" y="997.1" width="82.5" height="3.05" fill="url(#prof)" fill-opacity="1.00"/>
<rect x="131.5" y="1000.1" width="82.0" height="3.05" fill="url(#prof)" fill-opacity="1.00"/>
<rect x="131.7" y="1003.1" width="81.7" height="3.05" fill="url(#prof)" fill-opacity="1.00"/>
<rect x="132.0" y="1006.1" width="81.4" height="3.05" fill="url(#prof)" fill-opacity="1.00"/>
<rect x="132.2" y="1009.1" width="81.0" height="3.05" fill="url(#prof)" fill-opacity="1.00"/>
<rect x="132.4" y="1012.1" width="80.7" height="3.05" fill="url(#prof)" fill-opacity="1.00"/>
<rect x="132.6" y="1015.1" width="80.4" height="3.05" fill="url(#prof)" fill-opacity="1.00"/>
<rect x="132.8" y="1018.1" width="80.0" height="3.05" fill="url(#prof)" fill-opacity="1.00"/>
<rect x="133.1" y="1021.1" width="79.7" height="3.05" fill="url(#prof)" fill-opacity="1.00"/>
<rect x="133.3" y="1024.1" width="79.4" height="3.05" fill="url(#prof)" fill-opacity="1.00"/>
<rect x="133.5" y="1027.1" width="79.0" height="3.05" fill="url(#prof)" fill-opacity="1.00"/>
<rect x="133.7" y="1030.1" width="78.7" height="3.05" fill="url(#prof)" fill-opacity="1.00"/>
<rect x="134.0" y="1033.1" width="78.4" height="3.05" fill="url(#prof)" fill-opacity="1.00"/>
<rect x="134.2" y="1036.1" width="78.0" height="3.05" fill="url(#prof)" fill-opacity="1.00"/>
<rect x="134.4" y="1039.1" width="77.7" height="3.05" fill="url(#prof)" fill-opacity="1.00"/>
<rect x="134.6" y="1042.1" width="77.4" height="3.05" fill="url(#prof)" fill-opacity="1.00"/>
<rect x="134.9" y="1045.1" width="77.0" height="3.05" fill="url(#prof)" fill-opacity="1.00"/>
<rect x="135.1" y="1048.1" width="76.7" height="3.05" fill="url(#prof)" fill-opacity="1.00"/>
<rect x="135.3" y="1051.1" width="76.4" height="3.05" fill="url(#prof)" fill-opacity="1.00"/>
<rect x="135.5" y="1054.1" width="76.0" height="3.05" fill="url(#prof)" fill-opacity="1.00"/>
<rect x="135.7" y="1057.1" width="75.7" height="3.05" fill="url(#prof)" fill-opacity="1.00"/>
<rect x="136.0" y="1060.1" width="75.4" height="3.05" fill="url(#prof)" fill-opacity="1.00"/>
<rect x="136.2" y="1063.1" width="75.0" height="3.05" fill="url(#prof)" fill-opacity="1.00"/>
<rect x="136.4" y="1066.1" width="74.7" height="3.05" fill="url(#prof)" fill-opacity="1.00"/>
<rect x="136.6" y="1069.1" width="74.4" height="3.05" fill="url(#prof)" fill-opacity="1.00"/>
<rect x="136.9" y="1072.1" width="74.0" height="3.05" fill="url(#prof)" fill-opacity="1.00"/>
<rect x="137.1" y="1075.1" width="73.7" height="3.05" fill="url(#prof)" fill-opacity="1.00"/>
<rect x="137.3" y="1078.1" width="73.4" height="3.05" fill="url(#prof)" fill-opacity="1.00"/>
<rect x="137.5" y="1081.1" width="72.8" height="3.05" fill="url(#prof)" fill-opacity="1.00"/>
<rect x="137.7" y="1084.1" width="72.2" height="3.05" fill="url(#prof)" fill-opacity="1.00"/>
<rect x="138.0" y="1087.1" width="71.7" height="3.05" fill="url(#prof)" fill-opacity="1.00"/>
<rect x="138.2" y="1090.1" width="71.1" height="3.05" fill="url(#prof)" fill-opacity="1.00"/>
<rect x="138.4" y="1093.1" width="70.5" height="3.05" fill="url(#prof)" fill-opacity="1.00"/>
<rect x="138.6" y="1096.1" width="69.9" height="3.05" fill="url(#prof)" fill-opacity="1.00"/>
<rect x="138.8" y="1099.1" width="69.3" height="3.05" fill="url(#prof)" fill-opacity="1.00"/>
<rect x="139.0" y="1102.1" width="68.7" height="3.05" fill="url(#prof)" fill-opacity="1.00"/>
<rect x="139.3" y="1105.1" width="68.2" height="3.05" fill="url(#prof)" fill-opacity="1.00"/>
<rect x="139.5" y="1108.1" width="67.6" height="3.05" fill="url(#prof)" fill-opacity="1.00"/>
<rect x="139.7" y="1111.1" width="67.0" height="3.05" fill="url(#prof)" fill-opacity="1.00"/>
<rect x="139.9" y="1114.1" width="66.4" height="3.05" fill="url(#prof)" fill-opacity="1.00"/>
<rect x="140.1" y="1117.1" width="65.8" height="3.05" fill="url(#prof)" fill-opacity="1.00"/>
<rect x="140.3" y="1120.1" width="65.2" height="3.05" fill="url(#prof)" fill-opacity="1.00"/>
<rect x="140.6" y="1123.1" width="64.7" height="3.05" fill="url(#prof)" fill-opacity="1.00"/>
<rect x="140.8" y="1126.1" width="64.1" height="3.05" fill="url(#prof)" fill-opacity="1.00"/>
<rect x="141.0" y="1129.1" width="63.5" height="3.05" fill="url(#prof)" fill-opacity="1.00"/>
<rect x="141.2" y="1132.1" width="62.9" height="3.05" fill="url(#prof)" fill-opacity="1.00"/>
<rect x="141.4" y="1135.1" width="62.3" height="3.05" fill="url(#prof)" fill-opacity="1.00"/>
<rect x="141.6" y="1138.1" width="61.7" height="3.05" fill="url(#prof)" fill-opacity="1.00"/>
<rect x="141.9" y="1141.1" width="61.2" height="3.05" fill="url(#prof)" fill-opacity="1.00"/>
<rect x="142.1" y="1144.1" width="60.6" height="3.05" fill="url(#prof)" fill-opacity="1.00"/>
<rect x="142.3" y="1147.1" width="60.0" height="3.05" fill="url(#prof)" fill-opacity="1.00"/>
<rect x="142.5" y="1150.1" width="59.4" height="3.05" fill="url(#prof)" fill-opacity="1.00"/>
<rect x="142.7" y="1153.1" width="58.8" height="3.05" fill="url(#prof)" fill-opacity="1.00"/>
<rect x="142.9" y="1156.1" width="58.2" height="3.05" fill="url(#prof)" fill-opacity="1.00"/>
<rect x="143.2" y="1159.1" width="57.6" height="3.05" fill="url(#prof)" fill-opacity="1.00"/>
<rect x="143.8" y="1162.1" width="56.5" height="3.05" fill="url(#prof)" fill-opacity="0.99"/>
<rect x="144.3" y="1165.1" width="55.4" height="3.05" fill="url(#prof)" fill-opacity="0.99"/>
<rect x="144.8" y="1168.1" width="54.3" height="3.05" fill="url(#prof)" fill-opacity="0.98"/>
<rect x="145.4" y="1171.1" width="53.3" height="3.05" fill="url(#prof)" fill-opacity="0.98"/>
<rect x="145.9" y="1174.1" width="52.2" height="3.05" fill="url(#prof)" fill-opacity="0.97"/>
<rect x="146.4" y="1177.1" width="51.1" height="3.05" fill="url(#prof)" fill-opacity="0.97"/>
<rect x="147.0" y="1180.1" width="50.0" height="3.05" fill="url(#prof)" fill-opacity="0.97"/>
<rect x="147.5" y="1183.1" width="49.0" height="3.05" fill="url(#prof)" fill-opacity="0.96"/>
<rect x="148.1" y="1186.1" width="47.9" height="3.05" fill="url(#prof)" fill-opacity="0.96"/>
<rect x="148.6" y="1189.1" width="46.8" height="3.05" fill="url(#prof)" fill-opacity="0.95"/>
<rect x="149.1" y="1192.1" width="45.7" height="3.05" fill="url(#prof)" fill-opacity="0.94"/>
<rect x="149.6" y="1195.1" width="44.5" height="3.05" fill="url(#prof)" fill-opacity="0.93"/>
<rect x="150.1" y="1198.1" width="43.3" height="3.05" fill="url(#prof)" fill-opacity="0.92"/>
<rect x="150.6" y="1201.1" width="42.2" height="3.05" fill="url(#prof)" fill-opacity="0.91"/>
<rect x="151.1" y="1204.1" width="41.0" height="3.05" fill="url(#prof)" fill-opacity="0.90"/>
<rect x="151.6" y="1207.1" width="39.8" height="3.05" fill="url(#prof)" fill-opacity="0.88"/>
<rect x="152.2" y="1210.1" width="38.7" height="3.05" fill="url(#prof)" fill-opacity="0.87"/>
<rect x="152.7" y="1213.1" width="37.5" height="3.05" fill="url(#prof)" fill-opacity="0.86"/>
<rect x="153.2" y="1216.1" width="36.3" height="3.05" fill="url(#prof)" fill-opacity="0.85"/>
<rect x="153.7" y="1219.1" width="35.2" height="3.05" fill="url(#prof)" fill-opacity="0.84"/>
<rect x="154.2" y="1222.1" width="34.0" height="3.05" fill="url(#prof)" fill-opacity="0.83"/>
<rect x="154.7" y="1225.1" width="32.8" height="3.05" fill="url(#prof)" fill-opacity="0.82"/>
<rect x="155.2" y="1228.1" width="31.7" height="3.05" fill="url(#prof)" fill-opacity="0.81"/>
<rect x="155.7" y="1231.1" width="30.4" height="3.05" fill="url(#prof)" fill-opacity="0.78"/>
<rect x="156.3" y="1234.1" width="29.0" height="3.05" fill="url(#prof)" fill-opacity="0.74"/>
<rect x="156.8" y="1237.1" width="27.6" height="3.05" fill="url(#prof)" fill-opacity="0.70"/>
<rect x="157.4" y="1240.1" width="26.2" height="3.05" fill="url(#prof)" fill-opacity="0.66"/>
<rect x="157.9" y="1243.1" width="24.7" height="3.05" fill="url(#prof)" fill-opacity="0.62"/>
<rect x="158.5" y="1246.1" width="23.3" height="3.05" fill="url(#prof)" fill-opacity="0.58"/>
<rect x="159.0" y="1249.1" width="21.9" height="3.05" fill="url(#prof)" fill-opacity="0.54"/>
<rect x="159.6" y="1252.1" width="20.3" height="3.05" fill="url(#prof)" fill-opacity="0.50"/>
<rect x="160.2" y="1255.1" width="18.8" height="3.05" fill="url(#prof)" fill-opacity="0.45"/>
<rect x="160.8" y="1258.1" width="17.2" height="3.05" fill="url(#prof)" fill-opacity="0.41"/>
<rect x="161.4" y="1261.1" width="15.6" height="3.05" fill="url(#prof)" fill-opacity="0.36"/>
<rect x="162.0" y="1264.1" width="14.1" height="3.05" fill="url(#prof)" fill-opacity="0.32"/>
</g></g>
<rect x="61.6" y="805.1" width="217.00000000000003" height="461.4" fill="none" stroke="#555" stroke-width="1.2"/>
<line x1="61.6" y1="1266.9" x2="278.6" y2="1266.9" stroke="#7a7a7a" stroke-width="1.3"/>
<line x1="61.3" y1="1266.5" x2="61.3" y2="1271.1" stroke="#111" stroke-width="1.4"/>
<text x="61.3" y="1280.1" font-size="6.1" text-anchor="middle" fill="#000" style="font-weight:normal" stroke="#000" stroke-width="0.25">-3000</text>
<line x1="97.46666666666667" y1="1266.5" x2="97.46666666666667" y2="1271.1" stroke="#111" stroke-width="1.4"/>
<text x="97.5" y="1280.1" font-size="6.1" text-anchor="middle" fill="#000" style="font-weight:normal" stroke="#000" stroke-width="0.25">-2000</text>
<line x1="133.63333333333333" y1="1266.5" x2="133.63333333333333" y2="1271.1" stroke="#111" stroke-width="1.4"/>
<text x="133.6" y="1280.1" font-size="6.1" text-anchor="middle" fill="#000" style="font-weight:normal" stroke="#000" stroke-width="0.25">-1000</text>
<line x1="169.8" y1="1266.5" x2="169.8" y2="1271.1" stroke="#111" stroke-width="1.4"/>
<text x="169.8" y="1280.1" font-size="6.1" text-anchor="middle" fill="#000" style="font-weight:normal" stroke="#000" stroke-width="0.25">0</text>
<line x1="205.96666666666664" y1="1266.5" x2="205.96666666666664" y2="1271.1" stroke="#111" stroke-width="1.4"/>
<text x="206.0" y="1280.1" font-size="6.1" text-anchor="middle" fill="#000" style="font-weight:normal" stroke="#000" stroke-width="0.25">1000</text>
<line x1="242.13333333333333" y1="1266.5" x2="242.13333333333333" y2="1271.1" stroke="#111" stroke-width="1.4"/>
<text x="242.1" y="1280.1" font-size="6.1" text-anchor="middle" fill="#000" style="font-weight:normal" stroke="#000" stroke-width="0.25">2000</text>
<line x1="278.3" y1="1266.5" x2="278.3" y2="1271.1" stroke="#111" stroke-width="1.4"/>
<text x="278.3" y="1280.1" font-size="6.1" text-anchor="middle" fill="#000" style="font-weight:normal" stroke="#000" stroke-width="0.25">3000</text>
<defs>
<clipPath id="clip2"><rect x="308.0" y="804.6" width="216.29999999999995" height="461.9"/></clipPath>
<linearGradient id="bgg2" x1="0" y1="0" x2="0" y2="1"><stop offset="0" stop-color="#D62F1F" stop-opacity="0.7"/><stop offset="0.03" stop-color="#D62F1F" stop-opacity="0.42"/><stop offset="0.1" stop-color="#D62F1F" stop-opacity="0.26"/><stop offset="0.3" stop-color="#D62F1F" stop-opacity="0.17"/><stop offset="0.6" stop-color="#D62F1F" stop-opacity="0.13"/><stop offset="1" stop-color="#D62F1F" stop-opacity="0.1"/></linearGradient>
<filter id="hm2b" filterUnits="userSpaceOnUse" x="308.0" y="804.6" width="216.29999999999995" height="461.9" color-interpolation-filters="sRGB">
 <feTurbulence type="fractalNoise" baseFrequency="0.022 0.9" numOctaves="3" seed="11" result="t"/>
 <feColorMatrix in="t" type="matrix" values="0 0 0 0 0  0 0 0 0 0  0 0 0 0 0  2.6 0 0 0 -0.75" result="na"/>
 <feComposite in="SourceGraphic" in2="na" operator="in"/>
</filter>
<filter id="hm2c" filterUnits="userSpaceOnUse" x="308.0" y="804.6" width="216.29999999999995" height="461.9" color-interpolation-filters="sRGB">
 <feTurbulence type="fractalNoise" baseFrequency="0.03 0.9" numOctaves="2" seed="18" result="t"/>
 <feColorMatrix in="t" type="matrix" values="0 0 0 0 0  0 0 0 0 0  0 0 0 0 0  2.4 0 0 0 -0.3" result="na"/>
 <feComposite in="SourceGraphic" in2="na" operator="in"/>
</filter>
</defs>
<g clip-path="url(#clip2)">
<g filter="url(#hm2b)"><rect x="308.0" y="804.6" width="216.29999999999995" height="461.9" fill="url(#bgg2)"/>
<rect x="318.4" y="804.6" width="199.2" height="3.05" fill="url(#prof)" fill-opacity="0.70"/>
<rect x="319.4" y="807.6" width="197.2" height="3.05" fill="url(#prof)" fill-opacity="0.69"/>
<rect x="320.4" y="810.6" width="195.1" height="3.05" fill="url(#prof)" fill-opacity="0.68"/>
<rect x="321.5" y="813.6" width="193.1" height="3.05" fill="url(#prof)" fill-opacity="0.67"/>
<rect x="322.5" y="816.6" width="191.0" height="3.05" fill="url(#prof)" fill-opacity="0.66"/>
<rect x="323.5" y="819.6" width="189.0" height="3.05" fill="url(#prof)" fill-opacity="0.65"/>
<rect x="324.5" y="822.6" width="186.9" height="3.05" fill="url(#prof)" fill-opacity="0.65"/>
<rect x="325.6" y="825.6" width="184.8" height="3.05" fill="url(#prof)" fill-opacity="0.64"/>
<rect x="326.6" y="828.6" width="182.8" height="3.05" fill="url(#prof)" fill-opacity="0.63"/>
<rect x="327.6" y="831.6" width="180.7" height="3.05" fill="url(#prof)" fill-opacity="0.62"/>
<rect x="328.7" y="834.6" width="178.7" height="3.05" fill="url(#prof)" fill-opacity="0.61"/>
<rect x="329.7" y="837.6" width="176.6" height="3.05" fill="url(#prof)" fill-opacity="0.60"/>
<rect x="330.3" y="840.6" width="175.4" height="3.05" fill="url(#prof)" fill-opacity="0.60"/>
<rect x="330.7" y="843.6" width="174.5" height="3.05" fill="url(#prof)" fill-opacity="0.59"/>
<rect x="331.1" y="846.6" width="173.6" height="3.05" fill="url(#prof)" fill-opacity="0.59"/>
<rect x="331.5" y="849.6" width="172.8" height="3.05" fill="url(#prof)" fill-opacity="0.58"/>
<rect x="331.9" y="852.6" width="171.9" height="3.05" fill="url(#prof)" fill-opacity="0.58"/>
<rect x="332.3" y="855.6" width="171.0" height="3.05" fill="url(#prof)" fill-opacity="0.57"/>
<rect x="332.7" y="858.6" width="170.2" height="3.05" fill="url(#prof)" fill-opacity="0.57"/>
<rect x="333.2" y="861.6" width="169.3" height="3.05" fill="url(#prof)" fill-opacity="0.56"/>
<rect x="333.6" y="864.6" width="168.4" height="3.05" fill="url(#prof)" fill-opacity="0.56"/>
<rect x="334.0" y="867.6" width="167.5" height="3.05" fill="url(#prof)" fill-opacity="0.55"/>
<rect x="334.4" y="870.6" width="166.7" height="3.05" fill="url(#prof)" fill-opacity="0.55"/>
<rect x="334.8" y="873.6" width="165.8" height="3.05" fill="url(#prof)" fill-opacity="0.54"/>
<rect x="335.2" y="876.6" width="164.9" height="3.05" fill="url(#prof)" fill-opacity="0.54"/>
<rect x="335.6" y="879.6" width="164.0" height="3.05" fill="url(#prof)" fill-opacity="0.53"/>
<rect x="336.0" y="882.6" width="163.2" height="3.05" fill="url(#prof)" fill-opacity="0.53"/>
<rect x="336.4" y="885.6" width="162.3" height="3.05" fill="url(#prof)" fill-opacity="0.52"/>
<rect x="336.8" y="888.6" width="161.4" height="3.05" fill="url(#prof)" fill-opacity="0.52"/>
<rect x="337.2" y="891.6" width="160.6" height="3.05" fill="url(#prof)" fill-opacity="0.51"/>
<rect x="337.6" y="894.6" width="159.7" height="3.05" fill="url(#prof)" fill-opacity="0.51"/>
<rect x="338.1" y="897.6" width="158.8" height="3.05" fill="url(#prof)" fill-opacity="0.50"/>
<rect x="338.5" y="900.6" width="157.9" height="3.05" fill="url(#prof)" fill-opacity="0.50"/>
<rect x="338.9" y="903.6" width="157.1" height="3.05" fill="url(#prof)" fill-opacity="0.49"/>
<rect x="339.3" y="906.6" width="156.2" height="3.05" fill="url(#prof)" fill-opacity="0.49"/>
<rect x="339.7" y="909.6" width="155.3" height="3.05" fill="url(#prof)" fill-opacity="0.48"/>
<rect x="340.1" y="912.6" width="154.4" height="3.05" fill="url(#prof)" fill-opacity="0.48"/>
<rect x="340.5" y="915.6" width="153.6" height="3.05" fill="url(#prof)" fill-opacity="0.47"/>
<rect x="340.9" y="918.6" width="152.7" height="3.05" fill="url(#prof)" fill-opacity="0.47"/>
<rect x="341.3" y="921.6" width="151.8" height="3.05" fill="url(#prof)" fill-opacity="0.46"/>
<rect x="341.7" y="924.6" width="151.0" height="3.05" fill="url(#prof)" fill-opacity="0.46"/>
<rect x="342.1" y="927.6" width="150.1" height="3.05" fill="url(#prof)" fill-opacity="0.45"/>
<rect x="342.6" y="930.6" width="149.2" height="3.05" fill="url(#prof)" fill-opacity="0.45"/>
<rect x="343.0" y="933.6" width="148.3" height="3.05" fill="url(#prof)" fill-opacity="0.44"/>
<rect x="343.4" y="936.6" width="147.5" height="3.05" fill="url(#prof)" fill-opacity="0.44"/>
<rect x="343.8" y="939.6" width="146.6" height="3.05" fill="url(#prof)" fill-opacity="0.43"/>
<rect x="344.2" y="942.6" width="145.7" height="3.05" fill="url(#prof)" fill-opacity="0.43"/>
<rect x="344.6" y="945.6" width="144.8" height="3.05" fill="url(#prof)" fill-opacity="0.42"/>
<rect x="345.0" y="948.6" width="144.0" height="3.05" fill="url(#prof)" fill-opacity="0.42"/>
<rect x="345.4" y="951.6" width="143.3" height="3.05" fill="url(#prof)" fill-opacity="0.42"/>
<rect x="345.7" y="954.6" width="142.5" height="3.05" fill="url(#prof)" fill-opacity="0.41"/>
<rect x="346.1" y="957.6" width="141.8" height="3.05" fill="url(#prof)" fill-opacity="0.41"/>
<rect x="346.5" y="960.6" width="141.1" height="3.05" fill="url(#prof)" fill-opacity="0.41"/>
<rect x="346.8" y="963.6" width="140.4" height="3.05" fill="url(#prof)" fill-opacity="0.40"/>
<rect x="347.2" y="966.6" width="139.7" height="3.05" fill="url(#prof)" fill-opacity="0.40"/>
<rect x="347.5" y="969.6" width="138.9" height="3.05" fill="url(#prof)" fill-opacity="0.39"/>
<rect x="347.9" y="972.6" width="138.2" height="3.05" fill="url(#prof)" fill-opacity="0.39"/>
<rect x="348.3" y="975.6" width="137.5" height="3.05" fill="url(#prof)" fill-opacity="0.39"/>
<rect x="348.6" y="978.6" width="136.8" height="3.05" fill="url(#prof)" fill-opacity="0.38"/>
<rect x="349.0" y="981.6" width="136.1" height="3.05" fill="url(#prof)" fill-opacity="0.38"/>
<rect x="349.3" y="984.6" width="135.3" height="3.05" fill="url(#prof)" fill-opacity="0.38"/>
<rect x="349.7" y="987.6" width="134.6" height="3.05" fill="url(#prof)" fill-opacity="0.37"/>
<rect x="350.1" y="990.6" width="133.9" height="3.05" fill="url(#prof)" fill-opacity="0.37"/>
<rect x="350.4" y="993.6" width="133.2" height="3.05" fill="url(#prof)" fill-opacity="0.37"/>
<rect x="350.8" y="996.6" width="132.5" height="3.05" fill="url(#prof)" fill-opacity="0.36"/>
<rect x="351.1" y="999.6" width="131.7" height="3.05" fill="url(#prof)" fill-opacity="0.36"/>
<rect x="351.5" y="1002.6" width="131.0" height="3.05" fill="url(#prof)" fill-opacity="0.36"/>
<rect x="351.9" y="1005.6" width="130.3" height="3.05" fill="url(#prof)" fill-opacity="0.35"/>
<rect x="352.2" y="1008.6" width="129.6" height="3.05" fill="url(#prof)" fill-opacity="0.35"/>
<rect x="352.6" y="1011.6" width="128.9" height="3.05" fill="url(#prof)" fill-opacity="0.34"/>
<rect x="352.9" y="1014.6" width="128.1" height="3.05" fill="url(#prof)" fill-opacity="0.34"/>
<rect x="353.3" y="1017.6" width="127.4" height="3.05" fill="url(#prof)" fill-opacity="0.34"/>
<rect x="353.7" y="1020.6" width="126.7" height="3.05" fill="url(#prof)" fill-opacity="0.33"/>
<rect x="354.0" y="1023.6" width="126.0" height="3.05" fill="url(#prof)" fill-opacity="0.33"/>
<rect x="354.4" y="1026.6" width="125.3" height="3.05" fill="url(#prof)" fill-opacity="0.33"/>
<rect x="354.7" y="1029.6" width="124.5" height="3.05" fill="url(#prof)" fill-opacity="0.32"/>
<rect x="355.1" y="1032.6" width="123.8" height="3.05" fill="url(#prof)" fill-opacity="0.32"/>
<rect x="355.5" y="1035.6" width="123.1" height="3.05" fill="url(#prof)" fill-opacity="0.32"/>
<rect x="355.8" y="1038.6" width="122.4" height="3.05" fill="url(#prof)" fill-opacity="0.31"/>
<rect x="356.2" y="1041.6" width="121.7" height="3.05" fill="url(#prof)" fill-opacity="0.31"/>
<rect x="356.5" y="1044.6" width="120.9" height="3.05" fill="url(#prof)" fill-opacity="0.30"/>
<rect x="356.9" y="1047.6" width="120.2" height="3.05" fill="url(#prof)" fill-opacity="0.30"/>
<rect x="357.3" y="1050.6" width="119.5" height="3.05" fill="url(#prof)" fill-opacity="0.30"/>
<rect x="357.6" y="1053.6" width="118.8" height="3.05" fill="url(#prof)" fill-opacity="0.29"/>
<rect x="358.0" y="1056.6" width="118.1" height="3.05" fill="url(#prof)" fill-opacity="0.29"/>
<rect x="358.3" y="1059.6" width="117.3" height="3.05" fill="url(#prof)" fill-opacity="0.29"/>
<rect x="358.7" y="1062.6" width="116.6" height="3.05" fill="url(#prof)" fill-opacity="0.28"/>
<rect x="359.1" y="1065.6" width="115.9" height="3.05" fill="url(#prof)" fill-opacity="0.28"/>
<rect x="359.4" y="1068.6" width="115.2" height="3.05" fill="url(#prof)" fill-opacity="0.27"/>
<rect x="359.8" y="1071.6" width="114.5" height="3.05" fill="url(#prof)" fill-opacity="0.27"/>
<rect x="360.1" y="1074.6" width="113.7" height="3.05" fill="url(#prof)" fill-opacity="0.27"/>
<rect x="360.5" y="1077.6" width="113.0" height="3.05" fill="url(#prof)" fill-opacity="0.26"/>
<rect x="360.9" y="1080.6" width="112.3" height="3.05" fill="url(#prof)" fill-opacity="0.26"/>
<rect x="361.2" y="1083.6" width="111.6" height="3.05" fill="url(#prof)" fill-opacity="0.25"/>
<rect x="361.6" y="1086.6" width="110.9" height="3.05" fill="url(#prof)" fill-opacity="0.25"/>
<rect x="361.9" y="1089.6" width="110.1" height="3.05" fill="url(#prof)" fill-opacity="0.25"/>
<rect x="362.3" y="1092.6" width="109.4" height="3.05" fill="url(#prof)" fill-opacity="0.24"/>
<rect x="362.7" y="1095.6" width="108.7" height="3.05" fill="url(#prof)" fill-opacity="0.24"/>
<rect x="363.0" y="1098.6" width="108.0" height="3.05" fill="url(#prof)" fill-opacity="0.23"/>
<rect x="363.4" y="1101.6" width="107.3" height="3.05" fill="url(#prof)" fill-opacity="0.23"/>
<rect x="363.7" y="1104.6" width="106.5" height="3.05" fill="url(#prof)" fill-opacity="0.23"/>
<rect x="364.1" y="1107.6" width="105.8" height="3.05" fill="url(#prof)" fill-opacity="0.22"/>
<rect x="364.5" y="1110.6" width="105.1" height="3.05" fill="url(#prof)" fill-opacity="0.22"/>
<rect x="364.8" y="1113.6" width="104.4" height="3.05" fill="url(#prof)" fill-opacity="0.22"/>
<rect x="365.2" y="1116.6" width="103.7" height="3.05" fill="url(#prof)" fill-opacity="0.21"/>
<rect x="365.5" y="1119.6" width="102.9" height="3.05" fill="url(#prof)" fill-opacity="0.21"/>
<rect x="365.9" y="1122.6" width="102.2" height="3.05" fill="url(#prof)" fill-opacity="0.20"/>
<rect x="366.3" y="1125.6" width="101.5" height="3.05" fill="url(#prof)" fill-opacity="0.20"/>
<rect x="366.6" y="1128.6" width="100.8" height="3.05" fill="url(#prof)" fill-opacity="0.20"/>
<rect x="367.0" y="1131.6" width="100.1" height="3.05" fill="url(#prof)" fill-opacity="0.19"/>
<rect x="367.3" y="1134.6" width="99.3" height="3.05" fill="url(#prof)" fill-opacity="0.19"/>
<rect x="367.7" y="1137.6" width="98.6" height="3.05" fill="url(#prof)" fill-opacity="0.18"/>
<rect x="368.1" y="1140.6" width="97.9" height="3.05" fill="url(#prof)" fill-opacity="0.18"/>
<rect x="368.4" y="1143.6" width="97.2" height="3.05" fill="url(#prof)" fill-opacity="0.18"/>
<rect x="368.8" y="1146.6" width="96.5" height="3.05" fill="url(#prof)" fill-opacity="0.17"/>
<rect x="369.1" y="1149.6" width="95.8" height="3.05" fill="url(#prof)" fill-opacity="0.17"/>
<rect x="369.4" y="1152.6" width="95.1" height="3.05" fill="url(#prof)" fill-opacity="0.17"/>
<rect x="369.7" y="1155.6" width="94.4" height="3.05" fill="url(#prof)" fill-opacity="0.16"/>
<rect x="369.9" y="1158.6" width="93.8" height="3.05" fill="url(#prof)" fill-opacity="0.16"/>
<rect x="370.2" y="1161.6" width="93.1" height="3.05" fill="url(#prof)" fill-opacity="0.16"/>
<rect x="370.5" y="1164.6" width="92.4" height="3.05" fill="url(#prof)" fill-opacity="0.15"/>
<rect x="370.8" y="1167.6" width="91.8" height="3.05" fill="url(#prof)" fill-opacity="0.15"/>
<rect x="371.1" y="1170.6" width="91.1" height="3.05" fill="url(#prof)" fill-opacity="0.15"/>
<rect x="371.4" y="1173.6" width="90.4" height="3.05" fill="url(#prof)" fill-opacity="0.15"/>
<rect x="371.6" y="1176.6" width="89.8" height="3.05" fill="url(#prof)" fill-opacity="0.14"/>
<rect x="371.9" y="1179.6" width="89.1" height="3.05" fill="url(#prof)" fill-opacity="0.14"/>
<rect x="372.2" y="1182.6" width="88.4" height="3.05" fill="url(#prof)" fill-opacity="0.14"/>
<rect x="372.5" y="1185.6" width="87.8" height="3.05" fill="url(#prof)" fill-opacity="0.14"/>
<rect x="372.8" y="1188.6" width="87.1" height="3.05" fill="url(#prof)" fill-opacity="0.13"/>
<rect x="373.1" y="1191.6" width="86.4" height="3.05" fill="url(#prof)" fill-opacity="0.13"/>
<rect x="373.3" y="1194.6" width="85.8" height="3.05" fill="url(#prof)" fill-opacity="0.13"/>
<rect x="373.6" y="1197.6" width="85.1" height="3.05" fill="url(#prof)" fill-opacity="0.12"/>
<rect x="373.9" y="1200.6" width="84.4" height="3.05" fill="url(#prof)" fill-opacity="0.12"/>
<rect x="374.2" y="1203.6" width="83.8" height="3.05" fill="url(#prof)" fill-opacity="0.12"/>
<rect x="374.5" y="1206.6" width="83.1" height="3.05" fill="url(#prof)" fill-opacity="0.12"/>
<rect x="374.7" y="1209.6" width="82.4" height="3.05" fill="url(#prof)" fill-opacity="0.11"/>
<rect x="375.0" y="1212.6" width="81.8" height="3.05" fill="url(#prof)" fill-opacity="0.11"/>
<rect x="375.3" y="1215.6" width="81.1" height="3.05" fill="url(#prof)" fill-opacity="0.11"/>
<rect x="375.6" y="1218.6" width="80.4" height="3.05" fill="url(#prof)" fill-opacity="0.10"/>
<rect x="375.9" y="1221.6" width="79.8" height="3.05" fill="url(#prof)" fill-opacity="0.10"/>
<rect x="376.2" y="1224.6" width="79.1" height="3.05" fill="url(#prof)" fill-opacity="0.10"/>
<rect x="376.4" y="1227.6" width="78.4" height="3.05" fill="url(#prof)" fill-opacity="0.10"/>
<rect x="376.7" y="1230.6" width="77.8" height="3.05" fill="url(#prof)" fill-opacity="0.09"/>
<rect x="377.0" y="1233.6" width="77.1" height="3.05" fill="url(#prof)" fill-opacity="0.09"/>
<rect x="377.3" y="1236.6" width="76.4" height="3.05" fill="url(#prof)" fill-opacity="0.09"/>
<rect x="377.6" y="1239.6" width="75.8" height="3.05" fill="url(#prof)" fill-opacity="0.08"/>
<rect x="377.8" y="1242.6" width="75.1" height="3.05" fill="url(#prof)" fill-opacity="0.08"/>
<rect x="378.1" y="1245.6" width="74.4" height="3.05" fill="url(#prof)" fill-opacity="0.08"/>
<rect x="378.4" y="1248.6" width="73.8" height="3.05" fill="url(#prof)" fill-opacity="0.08"/>
<rect x="378.7" y="1251.6" width="73.1" height="3.05" fill="url(#prof)" fill-opacity="0.07"/>
<rect x="379.0" y="1254.6" width="72.4" height="3.05" fill="url(#prof)" fill-opacity="0.07"/>
<rect x="379.3" y="1257.6" width="71.8" height="3.05" fill="url(#prof)" fill-opacity="0.07"/>
<rect x="379.5" y="1260.6" width="71.1" height="3.05" fill="url(#prof)" fill-opacity="0.06"/>
<rect x="379.8" y="1263.6" width="70.4" height="3.05" fill="url(#prof)" fill-opacity="0.06"/>
</g>
<g filter="url(#hm2c)">
<rect x="377.5" y="804.6" width="84.0" height="3.05" fill="url(#prof)" fill-opacity="1.00"/>
<rect x="378.2" y="807.6" width="82.6" height="3.05" fill="url(#prof)" fill-opacity="1.00"/>
<rect x="378.9" y="810.6" width="81.3" height="3.05" fill="url(#prof)" fill-opacity="1.00"/>
<rect x="379.5" y="813.6" width="80.0" height="3.05" fill="url(#prof)" fill-opacity="1.00"/>
<rect x="380.2" y="816.6" width="78.6" height="3.05" fill="url(#prof)" fill-opacity="1.00"/>
<rect x="380.7" y="819.6" width="77.6" height="3.05" fill="url(#prof)" fill-opacity="1.00"/>
<rect x="380.8" y="822.6" width="77.2" height="3.05" fill="url(#prof)" fill-opacity="1.00"/>
<rect x="380.9" y="825.6" width="76.7" height="3.05" fill="url(#prof)" fill-opacity="1.00"/>
<rect x="381.0" y="828.6" width="76.3" height="3.05" fill="url(#prof)" fill-opacity="1.00"/>
<rect x="381.1" y="831.6" width="75.8" height="3.05" fill="url(#prof)" fill-opacity="1.00"/>
<rect x="381.3" y="834.6" width="75.4" height="3.05" fill="url(#prof)" fill-opacity="1.00"/>
<rect x="381.4" y="837.6" width="74.9" height="3.05" fill="url(#prof)" fill-opacity="1.00"/>
<rect x="381.5" y="840.6" width="74.5" height="3.05" fill="url(#prof)" fill-opacity="1.00"/>
<rect x="381.6" y="843.6" width="74.1" height="3.05" fill="url(#prof)" fill-opacity="1.00"/>
<rect x="381.8" y="846.6" width="73.6" height="3.05" fill="url(#prof)" fill-opacity="1.00"/>
<rect x="381.9" y="849.6" width="73.2" height="3.05" fill="url(#prof)" fill-opacity="1.00"/>
<rect x="382.0" y="852.6" width="72.7" height="3.05" fill="url(#prof)" fill-opacity="1.00"/>
<rect x="382.1" y="855.6" width="72.3" height="3.05" fill="url(#prof)" fill-opacity="1.00"/>
<rect x="382.2" y="858.6" width="71.8" height="3.05" fill="url(#prof)" fill-opacity="1.00"/>
<rect x="382.4" y="861.6" width="71.4" height="3.05" fill="url(#prof)" fill-opacity="1.00"/>
<rect x="382.5" y="864.6" width="70.9" height="3.05" fill="url(#prof)" fill-opacity="1.00"/>
<rect x="382.6" y="867.6" width="70.5" height="3.05" fill="url(#prof)" fill-opacity="1.00"/>
<rect x="382.7" y="870.6" width="70.1" height="3.05" fill="url(#prof)" fill-opacity="1.00"/>
<rect x="382.9" y="873.6" width="69.6" height="3.05" fill="url(#prof)" fill-opacity="1.00"/>
<rect x="383.0" y="876.6" width="69.2" height="3.05" fill="url(#prof)" fill-opacity="1.00"/>
<rect x="383.2" y="879.6" width="68.7" height="3.05" fill="url(#prof)" fill-opacity="1.00"/>
<rect x="383.5" y="882.6" width="68.1" height="3.05" fill="url(#prof)" fill-opacity="1.00"/>
<rect x="383.8" y="885.6" width="67.5" height="3.05" fill="url(#prof)" fill-opacity="1.00"/>
<rect x="384.1" y="888.6" width="67.0" height="3.05" fill="url(#prof)" fill-opacity="1.00"/>
<rect x="384.4" y="891.6" width="66.4" height="3.05" fill="url(#prof)" fill-opacity="1.00"/>
<rect x="384.7" y="894.6" width="65.8" height="3.05" fill="url(#prof)" fill-opacity="1.00"/>
<rect x="385.0" y="897.6" width="65.3" height="3.05" fill="url(#prof)" fill-opacity="1.00"/>
<rect x="385.3" y="900.6" width="64.7" height="3.05" fill="url(#prof)" fill-opacity="1.00"/>
<rect x="385.6" y="903.6" width="64.1" height="3.05" fill="url(#prof)" fill-opacity="1.00"/>
<rect x="385.9" y="906.6" width="63.5" height="3.05" fill="url(#prof)" fill-opacity="1.00"/>
<rect x="386.2" y="909.6" width="63.0" height="3.05" fill="url(#prof)" fill-opacity="1.00"/>
<rect x="386.4" y="912.6" width="62.4" height="3.05" fill="url(#prof)" fill-opacity="1.00"/>
<rect x="386.7" y="915.6" width="61.8" height="3.05" fill="url(#prof)" fill-opacity="1.00"/>
<rect x="387.0" y="918.6" width="61.3" height="3.05" fill="url(#prof)" fill-opacity="1.00"/>
<rect x="387.3" y="921.6" width="60.7" height="3.05" fill="url(#prof)" fill-opacity="1.00"/>
<rect x="387.6" y="924.6" width="60.1" height="3.05" fill="url(#prof)" fill-opacity="1.00"/>
<rect x="387.9" y="927.6" width="59.5" height="3.05" fill="url(#prof)" fill-opacity="1.00"/>
<rect x="388.2" y="930.6" width="59.0" height="3.05" fill="url(#prof)" fill-opacity="1.00"/>
<rect x="388.5" y="933.6" width="58.4" height="3.05" fill="url(#prof)" fill-opacity="1.00"/>
<rect x="388.8" y="936.6" width="57.8" height="3.05" fill="url(#prof)" fill-opacity="1.00"/>
<rect x="389.1" y="939.6" width="57.3" height="3.05" fill="url(#prof)" fill-opacity="1.00"/>
<rect x="389.4" y="942.6" width="56.7" height="3.05" fill="url(#prof)" fill-opacity="1.00"/>
<rect x="389.7" y="945.6" width="56.1" height="3.05" fill="url(#prof)" fill-opacity="1.00"/>
<rect x="390.0" y="948.6" width="55.5" height="3.05" fill="url(#prof)" fill-opacity="1.00"/>
<rect x="390.2" y="951.6" width="55.1" height="3.05" fill="url(#prof)" fill-opacity="1.00"/>
<rect x="390.4" y="954.6" width="54.7" height="3.05" fill="url(#prof)" fill-opacity="1.00"/>
<rect x="390.6" y="957.6" width="54.3" height="3.05" fill="url(#prof)" fill-opacity="1.00"/>
<rect x="390.7" y="960.6" width="53.9" height="3.05" fill="url(#prof)" fill-opacity="1.00"/>
<rect x="390.9" y="963.6" width="53.5" height="3.05" fill="url(#prof)" fill-opacity="1.00"/>
<rect x="391.1" y="966.6" width="53.1" height="3.05" fill="url(#prof)" fill-opacity="1.00"/>
<rect x="391.3" y="969.6" width="52.7" height="3.05" fill="url(#prof)" fill-opacity="1.00"/>
<rect x="391.5" y="972.6" width="52.2" height="3.05" fill="url(#prof)" fill-opacity="1.00"/>
<rect x="391.6" y="975.6" width="51.8" height="3.05" fill="url(#prof)" fill-opacity="1.00"/>
<rect x="391.8" y="978.6" width="51.4" height="3.05" fill="url(#prof)" fill-opacity="1.00"/>
<rect x="392.0" y="981.6" width="51.0" height="3.05" fill="url(#prof)" fill-opacity="1.00"/>
<rect x="392.2" y="984.6" width="50.6" height="3.05" fill="url(#prof)" fill-opacity="1.00"/>
<rect x="392.4" y="987.6" width="50.2" height="3.05" fill="url(#prof)" fill-opacity="1.00"/>
<rect x="392.5" y="990.6" width="49.8" height="3.05" fill="url(#prof)" fill-opacity="1.00"/>
<rect x="392.7" y="993.6" width="49.4" height="3.05" fill="url(#prof)" fill-opacity="1.00"/>
<rect x="392.9" y="996.6" width="49.0" height="3.05" fill="url(#prof)" fill-opacity="1.00"/>
<rect x="393.1" y="999.6" width="48.5" height="3.05" fill="url(#prof)" fill-opacity="1.00"/>
<rect x="393.3" y="1002.6" width="48.1" height="3.05" fill="url(#prof)" fill-opacity="1.00"/>
<rect x="393.4" y="1005.6" width="47.7" height="3.05" fill="url(#prof)" fill-opacity="1.00"/>
<rect x="393.6" y="1008.6" width="47.3" height="3.05" fill="url(#prof)" fill-opacity="1.00"/>
<rect x="393.8" y="1011.6" width="46.9" height="3.05" fill="url(#prof)" fill-opacity="1.00"/>
<rect x="394.0" y="1014.6" width="46.5" height="3.05" fill="url(#prof)" fill-opacity="1.00"/>
<rect x="394.2" y="1017.6" width="46.1" height="3.05" fill="url(#prof)" fill-opacity="1.00"/>
<rect x="394.3" y="1020.6" width="45.7" height="3.05" fill="url(#prof)" fill-opacity="1.00"/>
<rect x="394.5" y="1023.6" width="45.3" height="3.05" fill="url(#prof)" fill-opacity="1.00"/>
<rect x="394.7" y="1026.6" width="44.8" height="3.05" fill="url(#prof)" fill-opacity="1.00"/>
<rect x="394.9" y="1029.6" width="44.4" height="3.05" fill="url(#prof)" fill-opacity="1.00"/>
<rect x="395.1" y="1032.6" width="44.1" height="3.05" fill="url(#prof)" fill-opacity="1.00"/>
<rect x="395.2" y="1035.6" width="43.8" height="3.05" fill="url(#prof)" fill-opacity="1.00"/>
<rect x="395.4" y="1038.6" width="43.4" height="3.05" fill="url(#prof)" fill-opacity="1.00"/>
<rect x="395.6" y="1041.6" width="43.1" height="3.05" fill="url(#prof)" fill-opacity="1.00"/>
<rect x="395.7" y="1044.6" width="42.8" height="3.05" fill="url(#prof)" fill-opacity="1.00"/>
<rect x="395.9" y="1047.6" width="42.4" height="3.05" fill="url(#prof)" fill-opacity="1.00"/>
<rect x="396.1" y="1050.6" width="42.1" height="3.05" fill="url(#prof)" fill-opacity="1.00"/>
<rect x="396.2" y="1053.6" width="41.8" height="3.05" fill="url(#prof)" fill-opacity="1.00"/>
<rect x="396.4" y="1056.6" width="41.4" height="3.05" fill="url(#prof)" fill-opacity="1.00"/>
<rect x="396.6" y="1059.6" width="41.1" height="3.05" fill="url(#prof)" fill-opacity="1.00"/>
<rect x="396.7" y="1062.6" width="40.8" height="3.05" fill="url(#prof)" fill-opacity="1.00"/>
<rect x="396.9" y="1065.6" width="40.4" height="3.05" fill="url(#prof)" fill-opacity="1.00"/>
<rect x="397.1" y="1068.6" width="40.1" height="3.05" fill="url(#prof)" fill-opacity="1.00"/>
<rect x="397.2" y="1071.6" width="39.8" height="3.05" fill="url(#prof)" fill-opacity="1.00"/>
<rect x="397.4" y="1074.6" width="39.4" height="3.05" fill="url(#prof)" fill-opacity="1.00"/>
<rect x="397.6" y="1077.6" width="39.1" height="3.05" fill="url(#prof)" fill-opacity="1.00"/>
<rect x="397.7" y="1080.6" width="38.8" height="3.05" fill="url(#prof)" fill-opacity="1.00"/>
<rect x="397.9" y="1083.6" width="38.4" height="3.05" fill="url(#prof)" fill-opacity="1.00"/>
<rect x="398.1" y="1086.6" width="38.1" height="3.05" fill="url(#prof)" fill-opacity="1.00"/>
<rect x="398.2" y="1089.6" width="37.8" height="3.05" fill="url(#prof)" fill-opacity="1.00"/>
<rect x="398.4" y="1092.6" width="37.4" height="3.05" fill="url(#prof)" fill-opacity="1.00"/>
<rect x="398.6" y="1095.6" width="37.1" height="3.05" fill="url(#prof)" fill-opacity="1.00"/>
<rect x="398.7" y="1098.6" width="36.8" height="3.05" fill="url(#prof)" fill-opacity="1.00"/>
<rect x="398.9" y="1101.6" width="36.4" height="3.05" fill="url(#prof)" fill-opacity="1.00"/>
<rect x="399.1" y="1104.6" width="36.1" height="3.05" fill="url(#prof)" fill-opacity="1.00"/>
<rect x="399.2" y="1107.6" width="35.8" height="3.05" fill="url(#prof)" fill-opacity="1.00"/>
<rect x="399.4" y="1110.6" width="35.4" height="3.05" fill="url(#prof)" fill-opacity="1.00"/>
<rect x="399.5" y="1113.6" width="35.1" height="3.05" fill="url(#prof)" fill-opacity="1.00"/>
<rect x="399.7" y="1116.6" width="34.8" height="3.05" fill="url(#prof)" fill-opacity="1.00"/>
<rect x="399.9" y="1119.6" width="34.4" height="3.05" fill="url(#prof)" fill-opacity="0.99"/>
<rect x="400.0" y="1122.6" width="34.1" height="3.05" fill="url(#prof)" fill-opacity="0.99"/>
<rect x="400.2" y="1125.6" width="33.8" height="3.05" fill="url(#prof)" fill-opacity="0.99"/>
<rect x="400.4" y="1128.6" width="33.4" height="3.05" fill="url(#prof)" fill-opacity="0.99"/>
<rect x="400.5" y="1131.6" width="33.1" height="3.05" fill="url(#prof)" fill-opacity="0.99"/>
<rect x="400.7" y="1134.6" width="32.8" height="3.05" fill="url(#prof)" fill-opacity="0.98"/>
<rect x="400.8" y="1137.6" width="32.4" height="3.05" fill="url(#prof)" fill-opacity="0.98"/>
<rect x="401.0" y="1140.6" width="32.1" height="3.05" fill="url(#prof)" fill-opacity="0.98"/>
<rect x="401.2" y="1143.6" width="31.8" height="3.05" fill="url(#prof)" fill-opacity="0.98"/>
<rect x="401.3" y="1146.6" width="31.4" height="3.05" fill="url(#prof)" fill-opacity="0.98"/>
<rect x="401.5" y="1149.6" width="31.1" height="3.05" fill="url(#prof)" fill-opacity="0.97"/>
<rect x="401.7" y="1152.6" width="30.8" height="3.05" fill="url(#prof)" fill-opacity="0.97"/>
<rect x="401.8" y="1155.6" width="30.4" height="3.05" fill="url(#prof)" fill-opacity="0.97"/>
<rect x="402.0" y="1158.6" width="30.1" height="3.05" fill="url(#prof)" fill-opacity="0.97"/>
<rect x="402.2" y="1161.6" width="29.8" height="3.05" fill="url(#prof)" fill-opacity="0.97"/>
<rect x="402.3" y="1164.6" width="29.4" height="3.05" fill="url(#prof)" fill-opacity="0.97"/>
<rect x="402.5" y="1167.6" width="29.1" height="3.05" fill="url(#prof)" fill-opacity="0.96"/>
<rect x="402.6" y="1170.6" width="28.8" height="3.05" fill="url(#prof)" fill-opacity="0.96"/>
<rect x="402.8" y="1173.6" width="28.4" height="3.05" fill="url(#prof)" fill-opacity="0.96"/>
<rect x="403.0" y="1176.6" width="28.1" height="3.05" fill="url(#prof)" fill-opacity="0.96"/>
<rect x="403.1" y="1179.6" width="27.8" height="3.05" fill="url(#prof)" fill-opacity="0.96"/>
<rect x="403.3" y="1182.6" width="27.4" height="3.05" fill="url(#prof)" fill-opacity="0.95"/>
<rect x="403.5" y="1185.6" width="27.1" height="3.05" fill="url(#prof)" fill-opacity="0.95"/>
<rect x="403.6" y="1188.6" width="26.8" height="3.05" fill="url(#prof)" fill-opacity="0.95"/>
<rect x="403.8" y="1191.6" width="26.2" height="3.05" fill="url(#prof)" fill-opacity="0.94"/>
<rect x="404.1" y="1194.6" width="25.5" height="3.05" fill="url(#prof)" fill-opacity="0.93"/>
<rect x="404.4" y="1197.6" width="24.9" height="3.05" fill="url(#prof)" fill-opacity="0.92"/>
<rect x="404.6" y="1200.6" width="24.2" height="3.05" fill="url(#prof)" fill-opacity="0.91"/>
<rect x="404.9" y="1203.6" width="23.5" height="3.05" fill="url(#prof)" fill-opacity="0.90"/>
<rect x="405.1" y="1206.6" width="22.9" height="3.05" fill="url(#prof)" fill-opacity="0.89"/>
<rect x="405.4" y="1209.6" width="22.2" height="3.05" fill="url(#prof)" fill-opacity="0.87"/>
<rect x="405.7" y="1212.6" width="21.5" height="3.05" fill="url(#prof)" fill-opacity="0.86"/>
<rect x="405.9" y="1215.6" width="20.9" height="3.05" fill="url(#prof)" fill-opacity="0.85"/>
<rect x="406.2" y="1218.6" width="20.2" height="3.05" fill="url(#prof)" fill-opacity="0.84"/>
<rect x="406.4" y="1221.6" width="19.5" height="3.05" fill="url(#prof)" fill-opacity="0.83"/>
<rect x="406.7" y="1224.6" width="18.9" height="3.05" fill="url(#prof)" fill-opacity="0.82"/>
<rect x="406.9" y="1227.6" width="18.2" height="3.05" fill="url(#prof)" fill-opacity="0.81"/>
<rect x="407.2" y="1230.6" width="17.5" height="3.05" fill="url(#prof)" fill-opacity="0.79"/>
<rect x="407.5" y="1233.6" width="16.8" height="3.05" fill="url(#prof)" fill-opacity="0.75"/>
<rect x="407.8" y="1236.6" width="16.1" height="3.05" fill="url(#prof)" fill-opacity="0.71"/>
<rect x="408.0" y="1239.6" width="15.4" height="3.05" fill="url(#prof)" fill-opacity="0.67"/>
<rect x="408.3" y="1242.6" width="14.7" height="3.05" fill="url(#prof)" fill-opacity="0.63"/>
<rect x="408.6" y="1245.6" width="14.0" height="3.05" fill="url(#prof)" fill-opacity="0.59"/>
<rect x="408.8" y="1248.6" width="13.3" height="3.05" fill="url(#prof)" fill-opacity="0.55"/>
<rect x="409.1" y="1251.6" width="12.5" height="3.05" fill="url(#prof)" fill-opacity="0.50"/>
<rect x="409.5" y="1254.6" width="11.7" height="3.05" fill="url(#prof)" fill-opacity="0.46"/>
<rect x="409.8" y="1257.6" width="11.0" height="3.05" fill="url(#prof)" fill-opacity="0.42"/>
<rect x="410.1" y="1260.6" width="10.2" height="3.05" fill="url(#prof)" fill-opacity="0.37"/>
<rect x="410.4" y="1263.6" width="9.4" height="3.05" fill="url(#prof)" fill-opacity="0.33"/>
</g></g>
<rect x="308.0" y="804.6" width="216.29999999999995" height="461.9" fill="none" stroke="#555" stroke-width="1.2"/>
<line x1="308.0" y1="1266.9" x2="524.3" y2="1266.9" stroke="#7a7a7a" stroke-width="1.3"/>
<line x1="308.0" y1="1266.5" x2="308.0" y2="1271.1" stroke="#111" stroke-width="1.4"/>
<text x="308.0" y="1280.1" font-size="6.1" text-anchor="middle" fill="#000" style="font-weight:normal" stroke="#000" stroke-width="0.25">-3000</text>
<line x1="344.03333333333336" y1="1266.5" x2="344.03333333333336" y2="1271.1" stroke="#111" stroke-width="1.4"/>
<text x="344.0" y="1280.1" font-size="6.1" text-anchor="middle" fill="#000" style="font-weight:normal" stroke="#000" stroke-width="0.25">-2000</text>
<line x1="380.06666666666666" y1="1266.5" x2="380.06666666666666" y2="1271.1" stroke="#111" stroke-width="1.4"/>
<text x="380.1" y="1280.1" font-size="6.1" text-anchor="middle" fill="#000" style="font-weight:normal" stroke="#000" stroke-width="0.25">-1000</text>
<line x1="416.1" y1="1266.5" x2="416.1" y2="1271.1" stroke="#111" stroke-width="1.4"/>
<text x="416.1" y="1280.1" font-size="6.1" text-anchor="middle" fill="#000" style="font-weight:normal" stroke="#000" stroke-width="0.25">0</text>
<line x1="452.1333333333333" y1="1266.5" x2="452.1333333333333" y2="1271.1" stroke="#111" stroke-width="1.4"/>
<text x="452.1" y="1280.1" font-size="6.1" text-anchor="middle" fill="#000" style="font-weight:normal" stroke="#000" stroke-width="0.25">1000</text>
<line x1="488.16666666666674" y1="1266.5" x2="488.16666666666674" y2="1271.1" stroke="#111" stroke-width="1.4"/>
<text x="488.2" y="1280.1" font-size="6.1" text-anchor="middle" fill="#000" style="font-weight:normal" stroke="#000" stroke-width="0.25">2000</text>
<line x1="524.2" y1="1266.5" x2="524.2" y2="1271.1" stroke="#111" stroke-width="1.4"/>
<text x="524.2" y="1280.1" font-size="6.1" text-anchor="middle" fill="#000" style="font-weight:normal" stroke="#000" stroke-width="0.25">3000</text>
<text x="557" y="792.8" font-size="27" text-anchor="start" fill="#000">e</text>
<text x="658.9" y="825.9" font-size="28" text-anchor="start" fill="#000" textLength="372" lengthAdjust="spacingAndGlyphs">Chr7: 19,693,290-19,700,000</text>
<path d="M687.6,857 H661.7 V1083.5 H687.6" fill="none" stroke="#000" stroke-width="5" stroke-linejoin="miter"/>
<line x1="657.5" y1="857" x2="687.6" y2="857" stroke="#000" stroke-width="7"/>
<line x1="657.5" y1="1083.5" x2="687.6" y2="1083.5" stroke="#000" stroke-width="7"/>
<text x="631" y="867" font-size="26.5" text-anchor="end" fill="#000" textLength="36.5" lengthAdjust="spacingAndGlyphs">3.0</text>
<text x="637.5" y="1092.5" font-size="26.5" text-anchor="end" fill="#000">0</text>
<text transform="translate(581.2,1005.7) rotate(-90)" x="0" y="0" font-size="28" text-anchor="middle" fill="#000" textLength="164" lengthAdjust="spacingAndGlyphs">Signal Value</text>
<rect x="748.90" y="867.00" width="21.80" height="21.70" fill="#B4B4B6"/>
<rect x="748.20" y="905.00" width="21.70" height="21.90" fill="#DA3228"/>
<text x="781.7" y="890.6" font-size="28" text-anchor="start" fill="#000" textLength="98" lengthAdjust="spacingAndGlyphs">Control</text>
<text x="781.7" y="929.4" font-size="28" text-anchor="start" fill="#000" textLength="54.5" lengthAdjust="spacingAndGlyphs">PAE</text>
<text x="1766.4" y="872.7" font-size="28" text-anchor="middle" fill="#000" textLength="55" lengthAdjust="spacingAndGlyphs">1 kb</text>
<rect x="1701.10" y="892.90" width="173.40" height="11.00" fill="#0A0A08"/>
<line x1="737.3" y1="1083.2" x2="1871.3" y2="1083.2" stroke="#F2B0A0" stroke-width="1.2"/>
<polygon points="737.3,1083.5 737.3,1061.8 741.7,1054.6 748.3,1054.6 753.0,1071.2 759.6,1083.5" fill="#A69890"/>
<polygon points="777.5,1083.5 784.1,1070.3 788.8,1054.6 795.0,1054.6 797.9,1058.4 801.1,1054.3 803.9,1042.9 807.7,1007.1 811.0,974.0 813.0,967.5 815.2,967.5 817.0,974.0 819.9,1007.0 822.7,1044.8 827.4,1083.5" fill="#A69890"/>
<polygon points="958.5,1083.5 968.8,1063.3 979.8,1083.5" fill="#A69890"/>
<polygon points="987.1,1083.5 998.0,1063.3 1009.3,1063.3 1017.8,1078.9 1020.7,1083.5" fill="#A69890"/>
<polygon points="1034.8,1083.5 1045.2,1063.3 1055.5,1083.5" fill="#A69890"/>
<polygon points="1174.8,1083.5 1185.5,1063.8 1196.2,1083.5" fill="#A69890"/>
<polygon points="1246.0,1083.5 1256.2,1063.8 1263.3,1075.0 1267.0,1075.0 1274.0,1047.6 1280.0,1037.6 1286.0,1058.3 1289.5,1058.3 1296.7,1041.2 1299.0,1044.0 1305.0,1026.2 1311.0,1002.4 1313.0,1006.0 1315.7,1010.0 1318.0,1010.0 1321.7,1025.0 1324.0,1027.0 1327.6,1047.6 1331.2,1066.7 1336.0,1083.5" fill="#A69890"/>
<polygon points="1361.0,1083.5 1371.7,1043.3 1382.4,1083.5" fill="#A69890"/>
<polygon points="1465.7,1083.5 1477.1,1044.5 1488.3,1083.5" fill="#A69890"/>
<polygon points="1556.0,1083.5 1563.2,1068.2 1568.6,1039.6 1573.9,980.7 1576.6,969.6 1579.3,977.0 1582.9,1009.3 1586.4,1041.4 1589.1,1045.9 1592.7,1041.4 1595.4,1050.4 1598.9,1066.4 1602.5,1083.5" fill="#A69890"/>
<polygon points="1615.0,1083.5 1625.4,1043.6 1635.5,1083.5" fill="#A69890"/>
<polygon points="1689.1,1083.5 1695.4,1070.0 1699.8,1051.3 1703.5,1051.6 1710.6,1067.9 1716.0,1067.9 1718.0,1063.0 1722.7,1064.3 1724.5,1030.0 1728.4,1013.2 1732.0,960.0 1734.5,935.0 1737.3,919.5 1739.5,919.5 1742.0,932.0 1744.7,960.0 1749.0,985.0 1756.8,1022.5 1760.0,1034.5 1762.0,1052.0 1764.0,1083.5" fill="#A69890"/>
<polygon points="1822.0,1083.5 1825.7,1061.0 1829.0,1020.0 1832.9,980.7 1835.5,955.0 1837.3,947.7 1839.0,951.0 1841.8,959.3 1844.0,985.0 1847.1,1020.0 1849.0,1022.0 1852.5,1015.5 1855.0,1020.0 1859.6,1034.3 1863.2,1070.0 1866.0,1080.0 1868.6,1083.5" fill="#A69890"/>
<polygon points="801.1,1083.5 811.4,1050.1 815.2,1050.1 822.7,1062.7 835.0,1083.5" fill="#FF8B6A"/>
<polygon points="836.9,1083.5 847.2,1064.6 857.6,1083.5" fill="#FF8B6A"/>
<polygon points="1014.1,1083.5 1024.4,1064.6 1034.8,1083.5" fill="#FF8B6A"/>
<polygon points="1046.1,1083.5 1057.0,1064.6 1067.4,1083.5" fill="#FF8B6A"/>
<polygon points="1091.9,1083.5 1102.6,1045.7 1113.3,1083.5" fill="#FF8B6A"/>
<polygon points="1288.3,1083.5 1297.0,1060.0 1300.0,1052.9 1303.0,1052.9 1306.0,1060.0 1314.5,1083.5" fill="#FF8B6A"/>
<polygon points="1316.9,1083.5 1327.6,1064.3 1338.3,1083.5" fill="#FF8B6A"/>
<polygon points="1341.9,1083.5 1353.1,1064.3 1363.3,1083.5" fill="#FF8B6A"/>
<polygon points="1470.5,1083.5 1482.4,1062.4 1490.7,1062.4 1502.6,1083.5" fill="#FF8B6A"/>
<polygon points="1528.1,1083.5 1538.3,1059.3 1546.5,1059.3 1555.7,1083.5" fill="#FF8B6A"/>
<polygon points="1572.0,1083.5 1578.4,1070.0 1583.8,1056.6 1587.3,1056.6 1593.6,1065.5 1598.9,1065.5 1604.3,1072.0 1610.5,1083.5" fill="#FF8B6A"/>
<polygon points="1627.1,1083.5 1636.4,1067.9 1645.4,1083.5" fill="#FF8B6A"/>
<polygon points="1662.3,1083.5 1672.5,1064.6 1682.9,1083.5" fill="#FF8B6A"/>
<polygon points="1698.0,1083.5 1701.5,1068.0 1704.3,1052.0 1707.0,1030.0 1709.6,1000.0 1713.5,966.7 1716.0,975.0 1718.6,989.6 1721.3,1004.0 1724.8,1015.4 1726.5,1016.0 1728.4,1013.2 1730.5,1016.0 1735.5,1038.0 1738.2,1052.0 1742.6,1074.3 1748.3,1074.3 1751.1,1062.9 1756.0,1056.0 1760.9,1049.5 1765.0,1053.0 1770.4,1073.6 1775.7,1083.5" fill="#FF8B6A"/>
<polygon points="1779.3,1083.5 1789.6,1064.3 1799.8,1083.5" fill="#FF8B6A"/>
<polygon points="1807.9,1083.5 1818.2,1064.3 1821.0,1069.0 1825.7,1062.0 1830.0,1045.0 1834.6,1025.4 1840.0,1019.1 1845.4,1034.3 1850.7,1043.2 1854.0,1044.0 1859.6,1065.0 1864.1,1083.5" fill="#FF8B6A"/>
<defs><clipPath id="ctrlclip">
<polygon points="737.3,1083.5 737.3,1061.8 741.7,1054.6 748.3,1054.6 753.0,1071.2 759.6,1083.5" fill="#000"/>
<polygon points="777.5,1083.5 784.1,1070.3 788.8,1054.6 795.0,1054.6 797.9,1058.4 801.1,1054.3 803.9,1042.9 807.7,1007.1 811.0,974.0 813.0,967.5 815.2,967.5 817.0,974.0 819.9,1007.0 822.7,1044.8 827.4,1083.5" fill="#000"/>
<polygon points="958.5,1083.5 968.8,1063.3 979.8,1083.5" fill="#000"/>
<polygon points="987.1,1083.5 998.0,1063.3 1009.3,1063.3 1017.8,1078.9 1020.7,1083.5" fill="#000"/>
<polygon points="1034.8,1083.5 1045.2,1063.3 1055.5,1083.5" fill="#000"/>
<polygon points="1174.8,1083.5 1185.5,1063.8 1196.2,1083.5" fill="#000"/>
<polygon points="1246.0,1083.5 1256.2,1063.8 1263.3,1075.0 1267.0,1075.0 1274.0,1047.6 1280.0,1037.6 1286.0,1058.3 1289.5,1058.3 1296.7,1041.2 1299.0,1044.0 1305.0,1026.2 1311.0,1002.4 1313.0,1006.0 1315.7,1010.0 1318.0,1010.0 1321.7,1025.0 1324.0,1027.0 1327.6,1047.6 1331.2,1066.7 1336.0,1083.5" fill="#000"/>
<polygon points="1361.0,1083.5 1371.7,1043.3 1382.4,1083.5" fill="#000"/>
<polygon points="1465.7,1083.5 1477.1,1044.5 1488.3,1083.5" fill="#000"/>
<polygon points="1556.0,1083.5 1563.2,1068.2 1568.6,1039.6 1573.9,980.7 1576.6,969.6 1579.3,977.0 1582.9,1009.3 1586.4,1041.4 1589.1,1045.9 1592.7,1041.4 1595.4,1050.4 1598.9,1066.4 1602.5,1083.5" fill="#000"/>
<polygon points="1615.0,1083.5 1625.4,1043.6 1635.5,1083.5" fill="#000"/>
<polygon points="1689.1,1083.5 1695.4,1070.0 1699.8,1051.3 1703.5,1051.6 1710.6,1067.9 1716.0,1067.9 1718.0,1063.0 1722.7,1064.3 1724.5,1030.0 1728.4,1013.2 1732.0,960.0 1734.5,935.0 1737.3,919.5 1739.5,919.5 1742.0,932.0 1744.7,960.0 1749.0,985.0 1756.8,1022.5 1760.0,1034.5 1762.0,1052.0 1764.0,1083.5" fill="#000"/>
<polygon points="1822.0,1083.5 1825.7,1061.0 1829.0,1020.0 1832.9,980.7 1835.5,955.0 1837.3,947.7 1839.0,951.0 1841.8,959.3 1844.0,985.0 1847.1,1020.0 1849.0,1022.0 1852.5,1015.5 1855.0,1020.0 1859.6,1034.3 1863.2,1070.0 1866.0,1080.0 1868.6,1083.5" fill="#000"/>
</clipPath></defs>
<g clip-path="url(#ctrlclip)">
<polygon points="801.1,1083.5 811.4,1050.1 815.2,1050.1 822.7,1062.7 835.0,1083.5" fill="#D25037"/>
<polygon points="836.9,1083.5 847.2,1064.6 857.6,1083.5" fill="#D25037"/>
<polygon points="1014.1,1083.5 1024.4,1064.6 1034.8,1083.5" fill="#D25037"/>
<polygon points="1046.1,1083.5 1057.0,1064.6 1067.4,1083.5" fill="#D25037"/>
<polygon points="1091.9,1083.5 1102.6,1045.7 1113.3,1083.5" fill="#D25037"/>
<polygon points="1288.3,1083.5 1297.0,1060.0 1300.0,1052.9 1303.0,1052.9 1306.0,1060.0 1314.5,1083.5" fill="#D25037"/>
<polygon points="1316.9,1083.5 1327.6,1064.3 1338.3,1083.5" fill="#D25037"/>
<polygon points="1341.9,1083.5 1353.1,1064.3 1363.3,1083.5" fill="#D25037"/>
<polygon points="1470.5,1083.5 1482.4,1062.4 1490.7,1062.4 1502.6,1083.5" fill="#D25037"/>
<polygon points="1528.1,1083.5 1538.3,1059.3 1546.5,1059.3 1555.7,1083.5" fill="#D25037"/>
<polygon points="1572.0,1083.5 1578.4,1070.0 1583.8,1056.6 1587.3,1056.6 1593.6,1065.5 1598.9,1065.5 1604.3,1072.0 1610.5,1083.5" fill="#D25037"/>
<polygon points="1627.1,1083.5 1636.4,1067.9 1645.4,1083.5" fill="#D25037"/>
<polygon points="1662.3,1083.5 1672.5,1064.6 1682.9,1083.5" fill="#D25037"/>
<polygon points="1698.0,1083.5 1701.5,1068.0 1704.3,1052.0 1707.0,1030.0 1709.6,1000.0 1713.5,966.7 1716.0,975.0 1718.6,989.6 1721.3,1004.0 1724.8,1015.4 1726.5,1016.0 1728.4,1013.2 1730.5,1016.0 1735.5,1038.0 1738.2,1052.0 1742.6,1074.3 1748.3,1074.3 1751.1,1062.9 1756.0,1056.0 1760.9,1049.5 1765.0,1053.0 1770.4,1073.6 1775.7,1083.5" fill="#D25037"/>
<polygon points="1779.3,1083.5 1789.6,1064.3 1799.8,1083.5" fill="#D25037"/>
<polygon points="1807.9,1083.5 1818.2,1064.3 1821.0,1069.0 1825.7,1062.0 1830.0,1045.0 1834.6,1025.4 1840.0,1019.1 1845.4,1034.3 1850.7,1043.2 1854.0,1044.0 1859.6,1065.0 1864.1,1083.5" fill="#D25037"/>
</g>
<text x="673.8" y="1194.7" font-size="28" text-anchor="start" fill="#000" textLength="40.6" lengthAdjust="spacingAndGlyphs">ME</text>
<rect x="737.60" y="1179.40" width="113.40" height="14.80" fill="#3B509C"/>
<text x="1145.6" y="1189" font-size="28" text-anchor="start" fill="#000" textLength="70" lengthAdjust="spacingAndGlyphs">Apoe</text>
<line x1="1236.9" y1="1181.3" x2="1734.7" y2="1181.3" stroke="#3B509C" stroke-width="3.4"/>
<rect x="1236.90" y="1170.90" width="23.70" height="22.20" fill="#3B509C"/>
<rect x="1260.60" y="1159.40" width="121.30" height="45.30" fill="#3B509C"/>
<rect x="1445.60" y="1159.40" width="28.50" height="45.30" fill="#3B509C"/>
<rect x="1565.90" y="1159.40" width="6.90" height="45.30" fill="#3B509C"/>
<rect x="1572.00" y="1170.90" width="29.30" height="22.20" fill="#3B509C"/>
<rect x="1602.30" y="1170.90" width="11.50" height="22.20" fill="#3B509C"/>
<rect x="1623.10" y="1170.90" width="15.70" height="22.20" fill="#3B509C"/>
<rect x="1705.00" y="1170.90" width="29.70" height="22.20" fill="#3B509C"/>
<path d="M1538.9,1174.5 L1528.4,1181.3 L1538.9,1188.1" fill="none" stroke="#3B509C" stroke-width="2.6"/>
<path d="M1657.5,1174.5 L1647.0,1181.3 L1657.5,1188.1" fill="none" stroke="#3B509C" stroke-width="2.6"/>
<path d="M1676.5,1174.5 L1666.0,1181.3 L1676.5,1188.1" fill="none" stroke="#3B509C" stroke-width="2.6"/>
<path d="M1570.2,1156.5 V1126.9 H1536" fill="none" stroke="#0A0A08" stroke-width="8.6" stroke-linejoin="miter"/>
<polygon points="1523,1126.6 1537.6,1111.9 1537.6,1141.3" fill="#0A0A08"/>
<text x="1318.3" y="1242.2" font-size="28" text-anchor="middle" fill="#000" textLength="80" lengthAdjust="spacingAndGlyphs">3’UTR</text>
<text x="1616.8" y="1242.2" font-size="28" text-anchor="middle" fill="#000" textLength="80" lengthAdjust="spacingAndGlyphs">5’UTR</text>
<text x="1731.6" y="1242.2" font-size="28" text-anchor="middle" fill="#000" textLength="53.3" lengthAdjust="spacingAndGlyphs">TSS</text>
<text x="15" y="1343.6" font-size="27" text-anchor="start" fill="#000">f</text>
<line x1="103.5" y1="1381.5" x2="103.5" y2="1810" stroke="#000" stroke-width="4.4"/>
<line x1="85.7" y1="1383.4" x2="103.5" y2="1383.4" stroke="#000" stroke-width="4.4"/>
<text x="81.6" y="1392.9" font-size="27.5" text-anchor="end" fill="#1c1816">80</text>
<line x1="85.7" y1="1489.55" x2="103.5" y2="1489.55" stroke="#000" stroke-width="4.4"/>
<text x="81.6" y="1499.05" font-size="27.5" text-anchor="end" fill="#1c1816">60</text>
<line x1="85.7" y1="1595.7" x2="103.5" y2="1595.7" stroke="#000" stroke-width="4.4"/>
<text x="81.6" y="1605.2" font-size="27.5" text-anchor="end" fill="#1c1816">40</text>
<line x1="85.7" y1="1701.85" x2="103.5" y2="1701.85" stroke="#000" stroke-width="4.4"/>
<text x="81.6" y="1711.35" font-size="27.5" text-anchor="end" fill="#1c1816">20</text>
<line x1="85.7" y1="1808.0" x2="103.5" y2="1808.0" stroke="#000" stroke-width="4.4"/>
<text x="81.6" y="1817.5" font-size="27.5" text-anchor="end" fill="#1c1816">0</text>
<line x1="85.7" y1="1808.0" x2="743.1" y2="1808.0" stroke="#000" stroke-width="4.4"/>
<line x1="175.2" y1="1808.0" x2="175.2" y2="1825.9" stroke="#000" stroke-width="4.4"/>
<line x1="339.7" y1="1808.0" x2="339.7" y2="1825.9" stroke="#000" stroke-width="4.4"/>
<line x1="504.0" y1="1808.0" x2="504.0" y2="1825.9" stroke="#000" stroke-width="4.4"/>
<line x1="668.3" y1="1808.0" x2="668.3" y2="1825.9" stroke="#000" stroke-width="4.4"/>
<text x="167.2" y="1859.6" font-size="27.5" text-anchor="middle" fill="#1c1816" textLength="122" lengthAdjust="spacingAndGlyphs">Promoter</text>
<text x="335.4" y="1859.6" font-size="27.5" text-anchor="middle" fill="#1c1816" textLength="89.3" lengthAdjust="spacingAndGlyphs">5' UTR</text>
<text x="500.1" y="1859.6" font-size="27.5" text-anchor="middle" fill="#1c1816" textLength="89.3" lengthAdjust="spacingAndGlyphs">3' UTR</text>
<text x="665.8" y="1859.6" font-size="27.5" text-anchor="middle" fill="#1c1816" textLength="39.7" lengthAdjust="spacingAndGlyphs">ME</text>
<text transform="translate(32.1,1635.9) rotate(-90)" x="0" y="0" font-size="28.5" text-anchor="middle" fill="#1c1816" textLength="78" lengthAdjust="spacingAndGlyphs">ATAC</text>
<text transform="translate(32.1,1541.5) rotate(-90)" x="0" y="0" font-size="28.5" text-anchor="middle" fill="#1c1816" textLength="80" lengthAdjust="spacingAndGlyphs">signal</text>
<line x1="604.2" y1="1347.5" x2="649.2" y2="1347.5" stroke="#000" stroke-width="4.4"/>
<line x1="604.2" y1="1404.7" x2="649.2" y2="1404.7" stroke="#E0301E" stroke-width="4.4"/>
<text x="663.7" y="1355.5" font-size="28" text-anchor="start" fill="#1c1816" textLength="98.5" lengthAdjust="spacingAndGlyphs">Control</text>
<text x="664.1" y="1413" font-size="28" text-anchor="start" fill="#1c1816" textLength="55.6" lengthAdjust="spacingAndGlyphs">PAE</text>
<line x1="144.8" y1="1635.50625" x2="144.8" y2="1739.53325" stroke="#000" stroke-width="4.4"/>
<line x1="134.8" y1="1635.50625" x2="154.8" y2="1635.50625" stroke="#000" stroke-width="3"/>
<line x1="134.8" y1="1739.53325" x2="154.8" y2="1739.53325" stroke="#000" stroke-width="3"/>
<rect x="124.8" y="1684.0" width="40.2" height="9.2" rx="2" fill="#000"/>
<circle cx="144.80" cy="1635.51" r="8.6" fill="#000"/>
<circle cx="144.80" cy="1739.53" r="8.6" fill="#000"/>
<line x1="308.9" y1="1444.43625" x2="308.9" y2="1632.8525" stroke="#000" stroke-width="4.4"/>
<line x1="298.9" y1="1444.43625" x2="318.9" y2="1444.43625" stroke="#000" stroke-width="3"/>
<line x1="298.9" y1="1632.8525" x2="318.9" y2="1632.8525" stroke="#000" stroke-width="3"/>
<rect x="288.9" y="1533.2" width="40.2" height="9.2" rx="2" fill="#000"/>
<circle cx="308.90" cy="1444.44" r="8.6" fill="#000"/>
<circle cx="308.90" cy="1632.85" r="8.6" fill="#000"/>
<line x1="473.3" y1="1646.12125" x2="473.3" y2="1684.866" stroke="#000" stroke-width="4.4"/>
<line x1="463.3" y1="1646.12125" x2="483.3" y2="1646.12125" stroke="#000" stroke-width="3"/>
<line x1="463.3" y1="1684.866" x2="483.3" y2="1684.866" stroke="#000" stroke-width="3"/>
<rect x="453.3" y="1661.2" width="40.2" height="9.2" rx="2" fill="#000"/>
<circle cx="473.30" cy="1646.12" r="8.6" fill="#000"/>
<circle cx="473.30" cy="1684.87" r="8.6" fill="#000"/>
<line x1="637.5" y1="1621.176" x2="637.5" y2="1661.513" stroke="#000" stroke-width="4.4"/>
<line x1="627.5" y1="1621.176" x2="647.5" y2="1621.176" stroke="#000" stroke-width="3"/>
<line x1="627.5" y1="1661.513" x2="647.5" y2="1661.513" stroke="#000" stroke-width="3"/>
<rect x="617.5" y="1637.3" width="40.2" height="9.2" rx="2" fill="#000"/>
<circle cx="637.50" cy="1621.18" r="8.6" fill="#000"/>
<circle cx="637.50" cy="1661.51" r="8.6" fill="#000"/>
<line x1="205.9" y1="1777.2165" x2="205.9" y2="1780.401" stroke="#E0301E" stroke-width="3.5"/>
<line x1="205.9" y1="1804.28475" x2="205.9" y2="1808.0" stroke="#E0301E" stroke-width="3.5"/>
<line x1="195.9" y1="1777.2165" x2="215.9" y2="1777.2165" stroke="#E0301E" stroke-width="3.5"/>
<line x1="195.9" y1="1808.0" x2="215.9" y2="1808.0" stroke="#E0301E" stroke-width="3.5"/>
<rect x="187.3" y="1780.4" width="37.2" height="23.9" fill="none" stroke="#E0301E" stroke-width="3.5"/>
<line x1="185.3" y1="1796.85425" x2="226.5" y2="1796.85425" stroke="#E0301E" stroke-width="3.5"/>
<line x1="370.4" y1="1630.7295" x2="370.4" y2="1652.49025" stroke="#E0301E" stroke-width="3.5"/>
<line x1="370.4" y1="1735.28725" x2="370.4" y2="1743.2485" stroke="#E0301E" stroke-width="3.5"/>
<line x1="360.4" y1="1630.7295" x2="380.4" y2="1630.7295" stroke="#E0301E" stroke-width="3.5"/>
<line x1="360.4" y1="1743.2485" x2="380.4" y2="1743.2485" stroke="#E0301E" stroke-width="3.5"/>
<rect x="352.0" y="1652.5" width="36.8" height="82.8" fill="none" stroke="#E0301E" stroke-width="3.5"/>
<line x1="350.0" y1="1714.05725" x2="390.79999999999995" y2="1714.05725" stroke="#E0301E" stroke-width="3.5"/>
<line x1="699.4" y1="1732.10275" x2="699.4" y2="1741.1255" stroke="#E0301E" stroke-width="3.5"/>
<line x1="699.4" y1="1797.91575" x2="699.4" y2="1808.0" stroke="#E0301E" stroke-width="3.5"/>
<line x1="689.4" y1="1732.10275" x2="709.4" y2="1732.10275" stroke="#E0301E" stroke-width="3.5"/>
<line x1="689.4" y1="1808.0" x2="709.4" y2="1808.0" stroke="#E0301E" stroke-width="3.5"/>
<rect x="681.5" y="1741.1" width="35.8" height="56.8" fill="none" stroke="#E0301E" stroke-width="3.5"/>
<line x1="679.5" y1="1768.19375" x2="719.3" y2="1768.19375" stroke="#E0301E" stroke-width="3.5"/>
<circle cx="192.00" cy="1784.65" r="8.6" fill="#000"/>
<circle cx="220.20" cy="1778.28" r="8.6" fill="#000"/>
<circle cx="192.00" cy="1808.00" r="8.6" fill="#000"/>
<circle cx="220.20" cy="1808.00" r="8.6" fill="#000"/>
<circle cx="370.40" cy="1630.73" r="8.6" fill="#000"/>
<circle cx="370.40" cy="1707.69" r="8.6" fill="#000"/>
<circle cx="370.40" cy="1720.43" r="8.6" fill="#000"/>
<circle cx="370.40" cy="1743.25" r="8.6" fill="#000"/>
<circle cx="520.90" cy="1808.00" r="8.6" fill="#000"/>
<circle cx="530.20" cy="1808.00" r="8.6" fill="#000"/>
<circle cx="539.70" cy="1808.00" r="8.6" fill="#000"/>
<circle cx="549.20" cy="1808.00" r="8.6" fill="#000"/>
<circle cx="699.40" cy="1732.10" r="8.6" fill="#000"/>
<circle cx="699.40" cy="1757.58" r="8.6" fill="#000"/>
<circle cx="699.40" cy="1779.34" r="8.6" fill="#000"/>
<circle cx="699.40" cy="1808.00" r="8.6" fill="#000"/>
<path d="M146.3,1609.2 V1584.4 H205.6 V1609.2" fill="none" stroke="#000" stroke-width="4.4"/>
<path d="M308.9,1418.0 V1393.2 H370.4 V1418.0" fill="none" stroke="#000" stroke-width="4.4"/>
<path d="M473.3,1619.5 V1594.7 H535.2 V1619.5" fill="none" stroke="#000" stroke-width="4.4"/>
<path d="M637.5,1598.7 V1573.5 H698.9 V1598.7" fill="none" stroke="#000" stroke-width="4.4"/>
<text x="161.7" y="1565.8" font-size="27.5" text-anchor="start" fill="#1c1816" textLength="114.5" lengthAdjust="spacingAndGlyphs">*p=0.033</text>
<text x="335.3" y="1375.3" font-size="27.5" text-anchor="start" fill="#1c1816" textLength="102" lengthAdjust="spacingAndGlyphs">p=0.076</text>
<text x="470.3" y="1575.7" font-size="27.5" text-anchor="start" fill="#1c1816" textLength="134.5" lengthAdjust="spacingAndGlyphs">***p&lt;0.001</text>
<text x="642.9" y="1554.9" font-size="27.5" text-anchor="start" fill="#1c1816" textLength="124.5" lengthAdjust="spacingAndGlyphs">**p=0.009</text>
</svg>
</body></html>
